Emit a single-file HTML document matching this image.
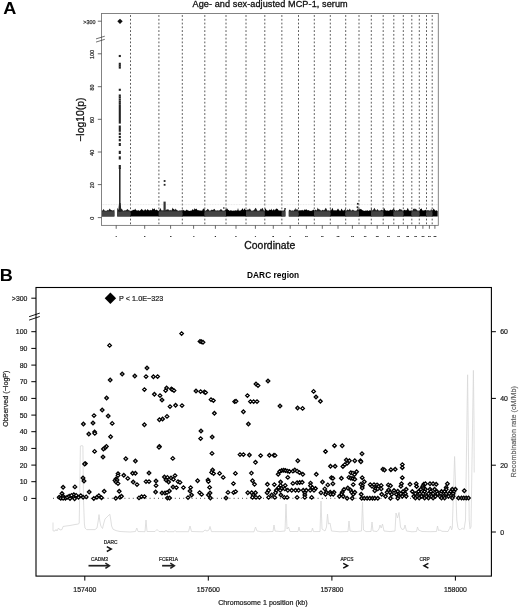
<!DOCTYPE html><html><head><meta charset="utf-8"><title>Figure</title>
<style>html,body{margin:0;padding:0;background:#fff}svg{display:block}text{font-family:"Liberation Sans",sans-serif}.k{stroke:#111;stroke-width:.3px}.j{stroke:#222;stroke-width:.22px}.t{stroke:#333;stroke-width:.25px}.g{stroke:#686868;stroke-width:.2px}</style></head><body>
<svg width="520" height="608" viewBox="0 0 520 608">
<rect width="520" height="608" fill="#fff"/>
<text transform="translate(3.2,14.1) scale(1.06,1)" font-size="17.1" font-weight="bold" fill="#000">A</text>
<text class="k" x="192.5" y="7.2" font-size="9.15" textLength="155.2" fill="#111">Age- and sex-adjusted MCP-1, serum</text>
<line x1="130.5" y1="13.5" x2="130.5" y2="225.4" stroke="#222" stroke-width="0.75" stroke-dasharray="1.8 1.97" stroke-dashoffset="2.18"/>
<line x1="158.9" y1="13.5" x2="158.9" y2="225.4" stroke="#222" stroke-width="0.75" stroke-dasharray="1.8 1.97" stroke-dashoffset="2.18"/>
<line x1="182.3" y1="13.5" x2="182.3" y2="225.4" stroke="#222" stroke-width="0.75" stroke-dasharray="1.8 1.97" stroke-dashoffset="2.18"/>
<line x1="204.8" y1="13.5" x2="204.8" y2="225.4" stroke="#222" stroke-width="0.75" stroke-dasharray="1.8 1.97" stroke-dashoffset="2.18"/>
<line x1="226" y1="13.5" x2="226" y2="225.4" stroke="#222" stroke-width="0.75" stroke-dasharray="1.8 1.97" stroke-dashoffset="2.18"/>
<line x1="246" y1="13.5" x2="246" y2="225.4" stroke="#222" stroke-width="0.75" stroke-dasharray="1.8 1.97" stroke-dashoffset="2.18"/>
<line x1="264.8" y1="13.5" x2="264.8" y2="225.4" stroke="#222" stroke-width="0.75" stroke-dasharray="1.8 1.97" stroke-dashoffset="2.18"/>
<line x1="281.85" y1="13.5" x2="281.85" y2="225.4" stroke="#222" stroke-width="0.75" stroke-dasharray="1.8 1.97" stroke-dashoffset="2.18"/>
<line x1="298.5" y1="13.5" x2="298.5" y2="225.4" stroke="#222" stroke-width="0.75" stroke-dasharray="1.8 1.97" stroke-dashoffset="2.18"/>
<line x1="314.3" y1="13.5" x2="314.3" y2="225.4" stroke="#222" stroke-width="0.75" stroke-dasharray="1.8 1.97" stroke-dashoffset="2.18"/>
<line x1="330.3" y1="13.5" x2="330.3" y2="225.4" stroke="#222" stroke-width="0.75" stroke-dasharray="1.8 1.97" stroke-dashoffset="2.18"/>
<line x1="345.7" y1="13.5" x2="345.7" y2="225.4" stroke="#222" stroke-width="0.75" stroke-dasharray="1.8 1.97" stroke-dashoffset="2.18"/>
<line x1="359" y1="13.5" x2="359" y2="225.4" stroke="#222" stroke-width="0.75" stroke-dasharray="1.8 1.97" stroke-dashoffset="2.18"/>
<line x1="371.3" y1="13.5" x2="371.3" y2="225.4" stroke="#222" stroke-width="0.75" stroke-dasharray="1.8 1.97" stroke-dashoffset="2.18"/>
<line x1="383.2" y1="13.5" x2="383.2" y2="225.4" stroke="#222" stroke-width="0.75" stroke-dasharray="1.8 1.97" stroke-dashoffset="2.18"/>
<line x1="393.8" y1="13.5" x2="393.8" y2="225.4" stroke="#222" stroke-width="0.75" stroke-dasharray="1.8 1.97" stroke-dashoffset="2.18"/>
<line x1="403.3" y1="13.5" x2="403.3" y2="225.4" stroke="#222" stroke-width="0.75" stroke-dasharray="1.8 1.97" stroke-dashoffset="2.18"/>
<line x1="411.8" y1="13.5" x2="411.8" y2="225.4" stroke="#222" stroke-width="0.75" stroke-dasharray="1.8 1.97" stroke-dashoffset="2.18"/>
<line x1="419.3" y1="13.5" x2="419.3" y2="225.4" stroke="#222" stroke-width="0.75" stroke-dasharray="1.8 1.97" stroke-dashoffset="2.18"/>
<line x1="426.5" y1="13.5" x2="426.5" y2="225.4" stroke="#222" stroke-width="0.75" stroke-dasharray="1.8 1.97" stroke-dashoffset="2.18"/>
<line x1="432.2" y1="13.5" x2="432.2" y2="225.4" stroke="#222" stroke-width="0.75" stroke-dasharray="1.8 1.97" stroke-dashoffset="2.18"/>
<line x1="101.5" y1="204.6" x2="438.3" y2="204.6" stroke="#d4d4d4" stroke-width="0.6" stroke-dasharray="0.8 0.8"/>
<polygon fill="#1c1c1c" points="102.0,216.4 102.0,210.7 102.5,210.5 103.0,209.7 103.5,208.9 104.1,209.7 104.6,210.5 105.1,210.9 105.6,210.5 106.1,210.9 106.7,210.6 107.2,210.5 107.7,209.8 108.2,210.5 108.7,209.9 109.2,209.3 109.8,208.6 110.3,209.3 110.8,209.9 111.3,209.9 111.8,210.3 112.3,210.2 112.9,210.7 113.4,210.3 113.9,209.9 114.4,209.5 114.4,216.4"/>
<rect x="102.0" y="211.3" width="12.4" height="5.1" fill="#444"/>
<polygon fill="#1c1c1c" points="117.2,216.4 117.2,207.8 117.7,208.5 118.2,209.4 118.7,210.0 119.2,209.4 119.8,208.8 120.3,209.4 120.8,210.0 121.3,209.1 121.8,208.5 122.3,209.5 122.8,210.4 123.3,210.8 123.9,210.7 124.4,210.2 124.9,210.6 125.4,210.2 125.9,210.6 126.4,210.0 126.9,209.5 127.4,208.9 127.9,209.5 128.5,210.0 129.0,210.6 129.5,210.3 130.0,210.9 130.5,210.8 130.5,216.4"/>
<rect x="117.2" y="211.3" width="13.3" height="5.1" fill="#444"/>
<polygon fill="#000" points="130.5,216.4 130.5,210.9 131.0,210.4 131.5,210.8 132.0,210.7 132.5,210.2 133.0,209.8 133.5,210.1 134.1,209.8 134.6,210.1 135.1,208.6 135.6,209.4 136.1,210.0 136.6,210.6 137.1,210.6 137.6,210.6 138.1,210.3 138.6,210.2 139.1,210.8 139.6,210.8 140.1,210.6 140.6,210.0 141.2,209.4 141.7,208.8 142.2,209.4 142.7,210.0 143.2,210.6 143.7,210.6 144.2,210.5 144.7,209.8 145.2,209.1 145.7,209.8 146.2,210.5 146.7,210.3 147.2,209.8 147.7,209.0 148.2,209.8 148.8,210.3 149.3,210.3 149.8,210.6 150.3,210.2 150.8,209.7 151.3,210.2 151.8,210.3 152.3,209.2 152.8,208.1 153.3,209.2 153.8,209.3 154.3,208.2 154.8,209.0 155.3,210.3 155.9,210.0 156.4,209.6 156.9,210.0 157.4,210.3 157.9,210.5 158.4,210.8 158.9,210.7 158.9,216.4"/>
<polygon fill="#1c1c1c" points="158.9,216.4 158.9,210.5 159.4,209.9 159.9,209.1 160.4,207.9 160.9,209.1 161.4,210.3 162.0,210.4 162.5,210.2 163.0,210.6 163.5,210.2 164.0,210.2 164.5,210.2 165.0,210.3 165.5,209.9 166.0,210.3 166.5,209.7 167.0,209.0 167.5,209.7 168.1,209.1 168.6,209.8 169.1,210.5 169.6,210.2 170.1,209.8 170.6,210.2 171.1,210.4 171.6,210.2 172.1,208.9 172.6,207.6 173.1,208.9 173.7,208.7 174.2,209.3 174.7,209.9 175.2,209.4 175.7,208.4 176.2,209.4 176.7,210.1 177.2,210.2 177.7,210.4 178.2,210.8 178.7,210.8 179.2,210.8 179.8,210.3 180.3,210.3 180.8,210.8 181.3,210.3 181.8,210.2 182.3,210.4 182.3,216.4"/>
<rect x="158.9" y="211.3" width="23.4" height="5.1" fill="#444"/>
<polygon fill="#000" points="182.3,216.4 182.3,209.9 182.8,209.4 183.3,209.9 183.8,210.3 184.3,210.7 184.8,210.5 185.3,210.8 185.8,210.6 186.3,210.1 186.8,209.6 187.3,210.1 187.8,210.4 188.3,210.3 188.8,210.9 189.3,210.8 189.8,210.9 190.3,210.8 190.8,210.6 191.3,210.7 191.8,210.3 192.3,209.8 192.8,209.0 193.3,209.8 193.8,210.3 194.3,209.2 194.8,208.0 195.3,209.2 195.8,209.2 196.3,208.5 196.8,209.2 197.3,209.9 197.8,210.3 198.3,210.3 198.8,210.3 199.3,210.3 199.8,210.8 200.3,210.6 200.8,210.6 201.3,210.6 201.8,210.7 202.3,210.4 202.8,209.3 203.3,208.2 203.8,209.3 204.3,209.6 204.8,208.7 204.8,216.4"/>
<polygon fill="#1c1c1c" points="204.8,216.4 204.8,210.5 205.3,210.9 205.8,210.2 206.3,210.3 206.8,209.9 207.3,209.3 207.8,208.7 208.3,209.3 208.8,209.9 209.3,210.6 209.8,210.8 210.4,210.6 210.9,210.3 211.4,210.0 211.9,209.4 212.4,210.0 212.9,209.9 213.4,209.4 213.9,209.2 214.4,208.8 214.9,209.6 215.4,210.4 215.9,210.6 216.4,210.8 216.9,210.2 217.4,210.5 217.9,210.3 218.4,210.8 218.9,210.3 219.4,210.6 219.9,210.1 220.4,209.6 221.0,209.0 221.5,209.6 222.0,210.1 222.5,210.6 223.0,210.8 223.5,210.5 224.0,210.7 224.5,210.6 225.0,210.1 225.5,209.6 226.0,209.1 226.0,216.4"/>
<rect x="204.8" y="211.3" width="21.2" height="5.1" fill="#444"/>
<polygon fill="#000" points="226.0,216.4 226.0,209.7 226.5,209.0 227.0,208.2 227.5,209.0 228.0,209.7 228.5,209.9 229.0,210.3 229.5,210.7 230.0,210.8 230.5,210.3 231.0,210.3 231.5,210.4 232.0,210.7 232.5,210.7 233.0,210.7 233.5,210.6 234.0,210.8 234.5,210.6 235.0,210.7 235.5,210.2 236.0,210.2 236.5,210.5 237.0,210.7 237.5,210.0 238.0,208.1 238.5,210.0 239.0,210.9 239.5,210.6 240.0,210.6 240.5,210.5 241.0,210.2 241.5,209.8 242.0,209.2 242.5,208.1 243.0,209.2 243.5,210.3 244.0,209.3 244.5,208.3 245.0,209.3 245.5,210.0 246.0,209.4 246.0,216.4"/>
<polygon fill="#1c1c1c" points="246.0,216.4 246.0,210.4 246.5,209.5 247.0,210.3 247.5,209.7 248.0,208.9 248.5,209.7 249.0,209.5 249.6,208.5 250.1,208.8 250.6,209.7 251.1,210.5 251.6,210.7 252.1,210.4 252.6,210.8 253.1,210.4 253.6,210.2 254.1,210.0 254.6,209.3 255.1,208.6 255.7,207.7 256.2,208.6 256.7,209.5 257.2,210.4 257.7,210.8 258.2,210.8 258.7,210.7 259.2,210.4 259.7,210.4 260.2,209.4 260.7,208.4 261.2,209.4 261.8,208.6 262.3,207.7 262.8,208.6 263.3,209.5 263.8,210.4 264.3,210.5 264.8,210.6 264.8,216.4"/>
<rect x="246.0" y="211.3" width="18.8" height="5.1" fill="#444"/>
<polygon fill="#000" points="264.8,216.4 264.8,209.0 265.3,208.2 265.8,209.0 266.3,209.8 266.8,210.2 267.3,210.4 267.8,210.6 268.3,210.4 268.8,210.6 269.3,209.9 269.8,209.2 270.3,209.9 270.8,210.1 271.3,208.5 271.8,210.1 272.3,210.2 272.8,210.5 273.3,209.8 273.8,209.1 274.3,209.8 274.8,210.5 275.3,209.8 275.8,209.0 276.3,208.3 276.8,209.0 277.3,208.7 277.8,209.2 278.3,209.9 278.8,210.6 279.3,210.4 279.8,210.5 280.3,210.8 280.8,210.2 281.3,210.6 281.9,210.7 281.9,216.4"/>
<polygon fill="#1c1c1c" points="281.9,216.4 281.9,210.6 282.4,210.4 282.9,210.8 283.4,210.4 283.9,210.5 284.4,209.6 284.9,208.8 285.4,207.9 285.4,216.4"/>
<rect x="281.9" y="211.3" width="3.5" height="5.1" fill="#444"/>
<polygon fill="#1c1c1c" points="288.8,216.4 288.8,210.6 289.3,210.1 289.8,209.6 290.3,210.1 290.8,210.5 291.4,210.7 291.9,210.6 292.4,210.3 292.9,210.8 293.4,210.7 293.9,210.2 294.4,209.8 294.9,209.3 295.4,207.8 295.9,209.9 296.5,209.6 297.0,208.8 297.5,209.6 298.0,210.5 298.5,210.4 298.5,216.4"/>
<rect x="288.8" y="211.3" width="9.7" height="5.1" fill="#444"/>
<polygon fill="#000" points="298.5,216.4 298.5,209.9 299.0,210.3 299.5,210.4 300.0,210.3 300.5,210.2 301.0,210.6 301.6,210.3 302.1,209.8 302.6,210.3 303.1,210.5 303.6,210.6 304.1,210.0 304.6,209.3 305.1,210.0 305.6,209.8 306.1,209.1 306.7,209.8 307.2,210.3 307.7,210.3 308.2,209.9 308.7,210.3 309.2,210.7 309.7,210.4 310.2,210.9 310.7,210.8 311.2,210.5 311.8,210.9 312.3,210.4 312.8,210.1 313.3,209.6 313.8,210.1 314.3,210.6 314.3,216.4"/>
<polygon fill="#1c1c1c" points="314.3,216.4 314.3,210.3 314.8,209.9 315.3,209.5 315.8,209.9 316.3,210.3 316.8,210.2 317.3,208.9 317.8,207.6 318.3,208.9 318.8,209.3 319.3,209.8 319.8,209.3 320.3,210.0 320.8,210.4 321.3,210.5 321.8,210.4 322.3,210.1 322.8,209.8 323.3,210.1 323.8,210.4 324.3,210.0 324.8,209.5 325.3,208.6 325.8,207.7 326.3,208.6 326.8,209.5 327.3,210.4 327.8,210.6 328.3,210.4 328.8,210.2 329.3,210.8 329.8,210.6 330.3,210.8 330.3,216.4"/>
<rect x="314.3" y="211.3" width="16.0" height="5.1" fill="#444"/>
<polygon fill="#000" points="330.3,216.4 330.3,208.2 330.8,210.0 331.3,210.2 331.8,209.1 332.4,207.8 332.9,209.1 333.4,210.3 333.9,210.6 334.4,210.6 334.9,209.9 335.4,210.6 335.9,210.3 336.5,210.6 337.0,209.9 337.5,209.2 338.0,208.5 338.5,209.2 339.0,209.9 339.5,210.4 340.1,210.9 340.6,210.4 341.1,209.5 341.6,208.6 342.1,209.5 342.6,210.4 343.1,210.3 343.6,210.7 344.2,210.2 344.7,209.7 345.2,209.3 345.7,208.3 345.7,216.4"/>
<polygon fill="#1c1c1c" points="345.7,216.4 345.7,210.9 346.2,210.2 346.7,210.6 347.2,209.9 347.7,209.3 348.3,209.9 348.8,210.3 349.3,209.4 349.8,208.4 350.3,209.4 350.8,210.4 351.3,210.6 351.8,210.6 352.4,210.1 352.9,209.6 353.4,210.1 353.9,210.5 354.4,210.8 354.9,210.6 355.4,210.8 355.9,210.8 356.4,210.5 357.0,210.3 357.5,209.0 358.0,208.1 358.5,209.2 359.0,210.3 359.0,216.4"/>
<rect x="345.7" y="211.3" width="13.3" height="5.1" fill="#444"/>
<polygon fill="#000" points="359.0,216.4 359.0,209.7 359.5,208.8 360.0,209.6 360.5,208.7 361.1,209.6 361.6,209.2 362.1,209.9 362.6,210.3 363.1,210.4 363.6,210.8 364.1,210.6 364.6,210.9 365.1,210.9 365.7,210.3 366.2,210.7 366.7,210.6 367.2,210.6 367.7,210.3 368.2,210.7 368.7,210.9 369.2,210.5 369.8,210.3 370.3,210.8 370.8,210.0 371.3,208.3 371.3,216.4"/>
<polygon fill="#1c1c1c" points="371.3,216.4 371.3,208.1 371.8,209.2 372.3,210.3 372.9,210.5 373.4,209.6 373.9,208.7 374.4,207.8 374.9,208.7 375.4,209.6 376.0,210.5 376.5,210.3 377.0,209.7 377.5,208.9 378.0,209.7 378.5,210.4 379.1,210.6 379.6,210.7 380.1,210.2 380.6,210.4 381.1,210.0 381.6,209.7 382.2,210.0 382.7,210.3 383.2,210.6 383.2,216.4"/>
<rect x="371.3" y="211.3" width="11.9" height="5.1" fill="#444"/>
<polygon fill="#000" points="383.2,216.4 383.2,210.3 383.7,209.1 384.2,207.9 384.7,209.1 385.2,210.3 385.7,210.3 386.2,210.8 386.7,210.5 387.2,210.6 387.7,210.5 388.2,210.8 388.8,210.7 389.3,210.5 389.8,210.3 390.3,209.9 390.8,209.5 391.3,209.9 391.8,210.2 392.3,209.9 392.8,209.3 393.3,208.3 393.8,209.3 393.8,216.4"/>
<polygon fill="#1c1c1c" points="393.8,216.4 393.8,208.8 394.3,209.4 394.8,210.0 395.3,210.6 395.8,210.8 396.3,210.2 396.8,210.3 397.3,210.8 397.8,210.3 398.3,210.3 398.8,209.9 399.3,209.3 399.8,208.7 400.3,209.3 400.8,209.6 401.3,210.0 401.8,209.2 402.3,210.3 402.8,210.7 403.3,210.7 403.3,216.4"/>
<rect x="393.8" y="211.3" width="9.5" height="5.1" fill="#444"/>
<polygon fill="#000" points="403.3,216.4 403.3,210.3 403.8,210.3 404.3,210.0 404.8,209.7 405.3,209.9 405.8,210.4 406.3,210.3 406.8,209.9 407.3,209.0 407.8,207.7 408.3,209.0 408.8,210.3 409.3,210.7 409.8,210.4 410.3,210.8 410.8,210.4 411.3,210.3 411.8,210.4 411.8,216.4"/>
<polygon fill="#1c1c1c" points="411.8,216.4 411.8,210.5 412.3,210.7 412.8,210.1 413.3,208.4 413.8,209.3 414.3,208.3 414.8,209.3 415.3,209.3 415.8,208.6 416.3,209.3 416.8,209.9 417.3,210.6 417.8,210.6 418.3,210.8 418.8,210.6 419.3,210.5 419.3,216.4"/>
<rect x="411.8" y="211.3" width="7.5" height="5.1" fill="#444"/>
<polygon fill="#000" points="419.3,216.4 419.3,210.5 419.8,210.2 420.3,208.8 420.8,209.3 421.4,208.2 421.9,209.3 422.4,210.4 422.9,210.2 423.4,210.5 423.9,210.6 424.4,210.3 425.0,210.3 425.5,209.8 426.0,210.3 426.5,210.6 426.5,216.4"/>
<polygon fill="#1c1c1c" points="426.5,216.4 426.5,209.8 427.0,210.2 427.5,210.3 428.1,210.3 428.6,210.3 429.1,210.4 429.6,210.4 430.1,210.7 430.6,210.2 431.2,208.7 431.7,210.2 432.2,210.6 432.2,216.4"/>
<rect x="426.5" y="211.3" width="5.7" height="5.1" fill="#444"/>
<polygon fill="#000" points="432.2,216.4 432.2,210.3 432.7,209.9 433.2,209.2 433.7,208.5 434.2,209.2 434.7,209.9 435.2,210.6 435.7,210.8 436.2,210.6 436.7,210.3 437.2,210.8 437.7,210.9 437.7,216.4"/>
<rect x="119.05" y="168" width="1.5" height="44" fill="#222"/>
<polygon points="119.05,203 120.55,203 121.39999999999999,211.5 118.2,211.5" fill="#222"/>
<rect x="118.75" y="54.95" width="2.1" height="2.1" fill="#222"/>
<rect x="118.75" y="62.75" width="2.1" height="2.1" fill="#222"/>
<rect x="118.75" y="64.65" width="2.1" height="2.1" fill="#222"/>
<rect x="118.75" y="66.55" width="2.1" height="2.1" fill="#222"/>
<rect x="118.75" y="88.75" width="2.1" height="2.1" fill="#222"/>
<rect x="118.75" y="94.45" width="2.1" height="2.1" fill="#222"/>
<rect x="118.75" y="96.35" width="2.1" height="2.1" fill="#222"/>
<rect x="118.75" y="98.55" width="2.1" height="2.1" fill="#222"/>
<rect x="118.75" y="100.75" width="2.1" height="2.1" fill="#222"/>
<rect x="118.75" y="102.75" width="2.1" height="2.1" fill="#222"/>
<rect x="118.75" y="105" width="2.1" height="18.6" fill="#222"/>
<rect x="118.75" y="125.5" width="2.1" height="6.3" fill="#222"/>
<rect x="118.75" y="132.65" width="2.1" height="2.3" fill="#222"/>
<rect x="118.75" y="135.85" width="2.1" height="2.3" fill="#222"/>
<rect x="118.75" y="139.05" width="2.1" height="2.3" fill="#222"/>
<rect x="118.75" y="143.00" width="2.1" height="3" fill="#222"/>
<rect x="118.75" y="150.80" width="2.1" height="3.2" fill="#222"/>
<rect x="118.75" y="156.30" width="2.1" height="3.2" fill="#222"/>
<rect x="118.75" y="165.00" width="2.1" height="4" fill="#222"/>
<polygon points="117.3,21.3 120.0,18.7 122.7,21.3 120.0,23.9" fill="#111"/>
<rect x="163.5" y="201.6" width="2.2" height="10" fill="#333"/>
<rect x="163.70" y="180.10" width="1.8" height="1.8" fill="#222"/>
<rect x="163.70" y="183.90" width="1.8" height="1.8" fill="#222"/>
<rect x="356.95" y="202.95" width="1.7" height="1.7" fill="#222"/>
<rect x="356.65" y="206.35" width="1.7" height="1.7" fill="#222"/>
<rect x="223.10" y="207.30" width="1.4" height="1.4" fill="#222"/>
<rect x="284.30" y="208.10" width="1.4" height="1.4" fill="#222"/>
<rect x="101.5" y="13.5" width="336.8" height="211.9" fill="none" stroke="#777" stroke-width="0.9"/>
<line x1="97.8" y1="217.6" x2="101.5" y2="217.6" stroke="#444" stroke-width="0.8"/>
<text class="t" transform="translate(94.4,218.29999999999998) rotate(-90)" font-size="5.4" text-anchor="middle" fill="#333">0</text>
<line x1="97.8" y1="184.6" x2="101.5" y2="184.6" stroke="#444" stroke-width="0.8"/>
<text class="t" transform="translate(94.4,185.29999999999998) rotate(-90)" font-size="5.4" text-anchor="middle" fill="#333">20</text>
<line x1="97.8" y1="152" x2="101.5" y2="152" stroke="#444" stroke-width="0.8"/>
<text class="t" transform="translate(94.4,152.7) rotate(-90)" font-size="5.4" text-anchor="middle" fill="#333">40</text>
<line x1="97.8" y1="119.3" x2="101.5" y2="119.3" stroke="#444" stroke-width="0.8"/>
<text class="t" transform="translate(94.4,120.0) rotate(-90)" font-size="5.4" text-anchor="middle" fill="#333">60</text>
<line x1="97.8" y1="86.7" x2="101.5" y2="86.7" stroke="#444" stroke-width="0.8"/>
<text class="t" transform="translate(94.4,87.4) rotate(-90)" font-size="5.4" text-anchor="middle" fill="#333">80</text>
<line x1="97.8" y1="53.8" x2="101.5" y2="53.8" stroke="#444" stroke-width="0.8"/>
<text class="t" transform="translate(94.4,54.5) rotate(-90)" font-size="5.4" text-anchor="middle" fill="#333">100</text>
<line x1="97.8" y1="21.2" x2="101.5" y2="21.2" stroke="#444" stroke-width="0.8"/>
<text class="t" x="95.4" y="23.5" font-size="5.4" text-anchor="end" fill="#333">&gt;300</text>
<line x1="96" y1="38.9" x2="104.8" y2="36.2" stroke="#333" stroke-width="0.7"/>
<line x1="96" y1="42.1" x2="104.8" y2="39.3" stroke="#333" stroke-width="0.7"/>
<text class="k" transform="translate(83.7,141.7) rotate(-90)" font-size="10.4" textLength="44.2" fill="#111">−log10(p)</text>
<line x1="116.2" y1="225.4" x2="116.2" y2="228.8" stroke="#444" stroke-width="0.8"/>
<text x="116.2" y="237.35" font-size="2.5" text-anchor="middle" fill="#111" stroke="#111" stroke-width="0.15">1</text>
<line x1="144.7" y1="225.4" x2="144.7" y2="228.8" stroke="#444" stroke-width="0.8"/>
<text x="144.7" y="237.35" font-size="2.5" text-anchor="middle" fill="#111" stroke="#111" stroke-width="0.15">2</text>
<line x1="170.6" y1="225.4" x2="170.6" y2="228.8" stroke="#444" stroke-width="0.8"/>
<text x="170.6" y="237.35" font-size="2.5" text-anchor="middle" fill="#111" stroke="#111" stroke-width="0.15">3</text>
<line x1="193.6" y1="225.4" x2="193.6" y2="228.8" stroke="#444" stroke-width="0.8"/>
<text x="193.6" y="237.35" font-size="2.5" text-anchor="middle" fill="#111" stroke="#111" stroke-width="0.15">4</text>
<line x1="215.4" y1="225.4" x2="215.4" y2="228.8" stroke="#444" stroke-width="0.8"/>
<text x="215.4" y="237.35" font-size="2.5" text-anchor="middle" fill="#111" stroke="#111" stroke-width="0.15">5</text>
<line x1="236.0" y1="225.4" x2="236.0" y2="228.8" stroke="#444" stroke-width="0.8"/>
<text x="236.0" y="237.35" font-size="2.5" text-anchor="middle" fill="#111" stroke="#111" stroke-width="0.15">6</text>
<line x1="255.4" y1="225.4" x2="255.4" y2="228.8" stroke="#444" stroke-width="0.8"/>
<text x="255.4" y="237.35" font-size="2.5" text-anchor="middle" fill="#111" stroke="#111" stroke-width="0.15">7</text>
<line x1="273.3" y1="225.4" x2="273.3" y2="228.8" stroke="#444" stroke-width="0.8"/>
<text x="273.3" y="237.35" font-size="2.5" text-anchor="middle" fill="#111" stroke="#111" stroke-width="0.15">8</text>
<line x1="290.2" y1="225.4" x2="290.2" y2="228.8" stroke="#444" stroke-width="0.8"/>
<text x="290.2" y="237.35" font-size="2.5" text-anchor="middle" fill="#111" stroke="#111" stroke-width="0.15">9</text>
<line x1="306.4" y1="225.4" x2="306.4" y2="228.8" stroke="#444" stroke-width="0.8"/>
<text x="306.4" y="237.35" font-size="2.5" text-anchor="middle" fill="#111" stroke="#111" stroke-width="0.15">10</text>
<line x1="322.3" y1="225.4" x2="322.3" y2="228.8" stroke="#444" stroke-width="0.8"/>
<text x="322.3" y="237.35" font-size="2.5" text-anchor="middle" fill="#111" stroke="#111" stroke-width="0.15">11</text>
<line x1="338.0" y1="225.4" x2="338.0" y2="228.8" stroke="#444" stroke-width="0.8"/>
<text x="338.0" y="237.35" font-size="2.5" text-anchor="middle" fill="#111" stroke="#111" stroke-width="0.15">12</text>
<line x1="352.4" y1="225.4" x2="352.4" y2="228.8" stroke="#444" stroke-width="0.8"/>
<text x="352.4" y="237.35" font-size="2.5" text-anchor="middle" fill="#111" stroke="#111" stroke-width="0.15">13</text>
<line x1="365.1" y1="225.4" x2="365.1" y2="228.8" stroke="#444" stroke-width="0.8"/>
<text x="365.1" y="237.35" font-size="2.5" text-anchor="middle" fill="#111" stroke="#111" stroke-width="0.15">14</text>
<line x1="377.2" y1="225.4" x2="377.2" y2="228.8" stroke="#444" stroke-width="0.8"/>
<text x="377.2" y="237.35" font-size="2.5" text-anchor="middle" fill="#111" stroke="#111" stroke-width="0.15">15</text>
<line x1="388.5" y1="225.4" x2="388.5" y2="228.8" stroke="#444" stroke-width="0.8"/>
<text x="388.5" y="237.35" font-size="2.5" text-anchor="middle" fill="#111" stroke="#111" stroke-width="0.15">16</text>
<line x1="398.6" y1="225.4" x2="398.6" y2="228.8" stroke="#444" stroke-width="0.8"/>
<text x="398.6" y="237.35" font-size="2.5" text-anchor="middle" fill="#111" stroke="#111" stroke-width="0.15">17</text>
<line x1="407.6" y1="225.4" x2="407.6" y2="228.8" stroke="#444" stroke-width="0.8"/>
<text x="407.6" y="237.35" font-size="2.5" text-anchor="middle" fill="#111" stroke="#111" stroke-width="0.15">18</text>
<line x1="415.6" y1="225.4" x2="415.6" y2="228.8" stroke="#444" stroke-width="0.8"/>
<text x="415.6" y="237.35" font-size="2.5" text-anchor="middle" fill="#111" stroke="#111" stroke-width="0.15">19</text>
<line x1="422.9" y1="225.4" x2="422.9" y2="228.8" stroke="#444" stroke-width="0.8"/>
<text x="422.9" y="237.35" font-size="2.5" text-anchor="middle" fill="#111" stroke="#111" stroke-width="0.15">20</text>
<line x1="429.4" y1="225.4" x2="429.4" y2="228.8" stroke="#444" stroke-width="0.8"/>
<text x="429.4" y="237.35" font-size="2.5" text-anchor="middle" fill="#111" stroke="#111" stroke-width="0.15">21</text>
<line x1="434.9" y1="225.4" x2="434.9" y2="228.8" stroke="#444" stroke-width="0.8"/>
<text x="434.9" y="237.35" font-size="2.5" text-anchor="middle" fill="#111" stroke="#111" stroke-width="0.15">22</text>
<text class="k" x="244.3" y="249" font-size="10.4" textLength="50.9" fill="#111">Coordinate</text>
<text transform="translate(-0.2,281.4) scale(1.06,1)" font-size="17.1" font-weight="bold" fill="#000">B</text>
<text x="247" y="277.8" font-size="8.3" font-weight="bold" textLength="52.2" fill="#000">DARC region</text>
<polyline fill="none" stroke="#d9d9d9" stroke-width="0.85" stroke-linejoin="round" points="53,522.5 53,530.8 55,531 56,529.5 57,531 58.5,528 60,530 62,529.5 63,526.5 66,526 70,525.5 75,524.5 78.5,524 79.2,523 79.6,500 80.4,446 82,445.6 82.9,446 83.5,500 84.4,524 85,528 86.5,529.6 95,529.6 97,528 98.2,521 99,514.6 99.8,521 100.8,526 102.5,528.5 103.6,524 105,519 107,517 109.8,514.2 110.8,520 111.6,526 113,529.2 116,530.6 120,531.5 130,532 135.5,531.5 136.8,528 138,531.5 145,531.7 146,520 147,531.5 155,531.5 157,529.5 159,531.5 165,531.7 166,530 167,531.7 174,531.7 175,530.5 176,531.7 188.5,531.7 190,526 191.5,531.5 203,531.8 205,530 207,531 209,530 210,526.5 211.5,531.6 254,531.8 255.5,527 257,531 262,531.8 273,531.5 274,525 275,531 280,531.5 285,531 286,504 287,529 288.5,527 290,531.5 298,531.5 299,527 300,531.5 311.5,531.6 312.5,528 313.5,531.6 320,531.5 321,501 322,529 325,531 326.5,527 327.5,514 328.5,524 330,523 331.5,531 340,531.8 348,531.5 349,521 350,531 355,531.7 361.5,531 362.5,502 363.5,530 366,531.6 371,531.5 372,522 373,531 377,531.5 379,529 380,525 381.2,528 382.5,524 384,531 390,531.6 395,531 396,513 397.5,518 399,512.5 400.5,527 402,529.5 404,529 405,525 406.5,531 412,531.8 416.5,531.5 417.5,527 418.5,530 422,531.5 430,531.7 436.5,531.5 437.5,526 438.5,530.5 440,530 442,531.3 448,531.5 449.5,528.5 450.5,526 451.5,529.5 451.5,530 452.3,528 454.6,456.5 456.8,520 457.9,527.5 459,529.6 460.5,529.5 462.5,528 464,529.5 465.5,520 467.6,374.8 469.2,520 470,528.7 471,527 473.4,370.4 474,420 474.2,472.5"/>
<line x1="53" y1="498.3" x2="470" y2="498.3" stroke="#333" stroke-width="0.9" stroke-dasharray="1 3.2"/>
<polygon points="107.8,345.4 109.6,343.6 111.4,345.4 109.6,347.2" fill="#fff" stroke="#000" stroke-width="1.3"/>
<polygon points="120.4,374.0 122.2,372.2 124.0,374.0 122.2,375.8" fill="#fff" stroke="#000" stroke-width="1.3"/>
<polygon points="133.0,376.0 134.8,374.2 136.6,376.0 134.8,377.8" fill="#fff" stroke="#000" stroke-width="1.3"/>
<polygon points="108.4,380.0 110.2,378.2 112.0,380.0 110.2,381.8" fill="#fff" stroke="#000" stroke-width="1.3"/>
<polygon points="104.8,398.0 106.6,396.2 108.4,398.0 106.6,399.8" fill="#fff" stroke="#000" stroke-width="1.3"/>
<polygon points="100.4,410.0 102.2,408.2 104.0,410.0 102.2,411.8" fill="#fff" stroke="#000" stroke-width="1.3"/>
<polygon points="92.2,415.6 94.0,413.8 95.8,415.6 94.0,417.4" fill="#fff" stroke="#000" stroke-width="1.3"/>
<polygon points="106.4,416.0 108.2,414.2 110.0,416.0 108.2,417.8" fill="#fff" stroke="#000" stroke-width="1.3"/>
<polygon points="91.2,423.0 93.0,421.2 94.8,423.0 93.0,424.8" fill="#fff" stroke="#000" stroke-width="1.3"/>
<polygon points="81.6,424.0 83.4,422.2 85.2,424.0 83.4,425.8" fill="#fff" stroke="#000" stroke-width="1.3"/>
<polygon points="110.4,423.4 112.2,421.6 114.0,423.4 112.2,425.2" fill="#fff" stroke="#000" stroke-width="1.3"/>
<polygon points="87.0,434.0 88.8,432.2 90.6,434.0 88.8,435.8" fill="#fff" stroke="#000" stroke-width="1.3"/>
<polygon points="92.8,432.0 94.6,430.2 96.4,432.0 94.6,433.8" fill="#fff" stroke="#000" stroke-width="1.3"/>
<polygon points="93.0,433.4 94.8,431.6 96.6,433.4 94.8,435.2" fill="#fff" stroke="#000" stroke-width="1.3"/>
<polygon points="108.8,436.8 110.6,435.0 112.4,436.8 110.6,438.6" fill="#fff" stroke="#000" stroke-width="1.3"/>
<polygon points="104.6,446.4 106.4,444.6 108.2,446.4 106.4,448.2" fill="#fff" stroke="#000" stroke-width="1.3"/>
<polygon points="103.2,448.0 105.0,446.2 106.8,448.0 105.0,449.8" fill="#fff" stroke="#000" stroke-width="1.3"/>
<polygon points="101.6,449.0 103.4,447.2 105.2,449.0 103.4,450.8" fill="#fff" stroke="#000" stroke-width="1.3"/>
<polygon points="92.8,451.4 94.6,449.6 96.4,451.4 94.6,453.2" fill="#fff" stroke="#000" stroke-width="1.3"/>
<polygon points="101.2,457.0 103.0,455.2 104.8,457.0 103.0,458.8" fill="#fff" stroke="#000" stroke-width="1.3"/>
<polygon points="124.0,458.8 125.8,457.0 127.6,458.8 125.8,460.6" fill="#fff" stroke="#000" stroke-width="1.3"/>
<polygon points="133.6,461.0 135.4,459.2 137.2,461.0 135.4,462.8" fill="#fff" stroke="#000" stroke-width="1.3"/>
<polygon points="83.6,463.6 85.4,461.8 87.2,463.6 85.4,465.4" fill="#fff" stroke="#000" stroke-width="1.3"/>
<polygon points="82.8,464.0 84.6,462.2 86.4,464.0 84.6,465.8" fill="#fff" stroke="#000" stroke-width="1.3"/>
<polygon points="116.2,473.6 118.0,471.8 119.8,473.6 118.0,475.4" fill="#fff" stroke="#000" stroke-width="1.3"/>
<polygon points="116.2,475.6 118.0,473.8 119.8,475.6 118.0,477.4" fill="#fff" stroke="#000" stroke-width="1.3"/>
<polygon points="130.8,473.2 132.6,471.4 134.4,473.2 132.6,475.0" fill="#fff" stroke="#000" stroke-width="1.3"/>
<polygon points="133.6,473.2 135.4,471.4 137.2,473.2 135.4,475.0" fill="#fff" stroke="#000" stroke-width="1.3"/>
<polygon points="122.0,475.2 123.8,473.4 125.6,475.2 123.8,477.0" fill="#fff" stroke="#000" stroke-width="1.3"/>
<polygon points="126.0,478.4 127.8,476.6 129.6,478.4 127.8,480.2" fill="#fff" stroke="#000" stroke-width="1.3"/>
<polygon points="81.2,478.0 83.0,476.2 84.8,478.0 83.0,479.8" fill="#fff" stroke="#000" stroke-width="1.3"/>
<polygon points="82.2,481.0 84.0,479.2 85.8,481.0 84.0,482.8" fill="#fff" stroke="#000" stroke-width="1.3"/>
<polygon points="114.2,479.0 116.0,477.2 117.8,479.0 116.0,480.8" fill="#fff" stroke="#000" stroke-width="1.3"/>
<polygon points="113.2,480.4 115.0,478.6 116.8,480.4 115.0,482.2" fill="#fff" stroke="#000" stroke-width="1.3"/>
<polygon points="115.2,480.0 117.0,478.2 118.8,480.0 117.0,481.8" fill="#fff" stroke="#000" stroke-width="1.3"/>
<polygon points="114.2,482.0 116.0,480.2 117.8,482.0 116.0,483.8" fill="#fff" stroke="#000" stroke-width="1.3"/>
<polygon points="116.2,483.6 118.0,481.8 119.8,483.6 118.0,485.4" fill="#fff" stroke="#000" stroke-width="1.3"/>
<polygon points="131.4,482.0 133.2,480.2 135.0,482.0 133.2,483.8" fill="#fff" stroke="#000" stroke-width="1.3"/>
<polygon points="135.2,484.6 137.0,482.8 138.8,484.6 137.0,486.4" fill="#fff" stroke="#000" stroke-width="1.3"/>
<polygon points="137.2,497.9 139.0,496.1 140.8,497.9 139.0,499.7" fill="#fff" stroke="#000" stroke-width="1.3"/>
<polygon points="179.8,333.6 181.6,331.8 183.4,333.6 181.6,335.4" fill="#fff" stroke="#000" stroke-width="1.3"/>
<polygon points="198.2,341.4 200.0,339.6 201.8,341.4 200.0,343.2" fill="#fff" stroke="#000" stroke-width="1.3"/>
<polygon points="199.6,341.8 201.4,340.0 203.2,341.8 201.4,343.6" fill="#fff" stroke="#000" stroke-width="1.3"/>
<polygon points="201.2,342.2 203.0,340.4 204.8,342.2 203.0,344.0" fill="#fff" stroke="#000" stroke-width="1.3"/>
<polygon points="145.2,368.0 147.0,366.2 148.8,368.0 147.0,369.8" fill="#fff" stroke="#000" stroke-width="1.3"/>
<polygon points="144.2,376.6 146.0,374.8 147.8,376.6 146.0,378.4" fill="#fff" stroke="#000" stroke-width="1.3"/>
<polygon points="151.6,376.8 153.4,375.0 155.2,376.8 153.4,378.6" fill="#fff" stroke="#000" stroke-width="1.3"/>
<polygon points="155.8,376.6 157.6,374.8 159.4,376.6 157.6,378.4" fill="#fff" stroke="#000" stroke-width="1.3"/>
<polygon points="142.6,389.6 144.4,387.8 146.2,389.6 144.4,391.4" fill="#fff" stroke="#000" stroke-width="1.3"/>
<polygon points="152.6,394.2 154.4,392.4 156.2,394.2 154.4,396.0" fill="#fff" stroke="#000" stroke-width="1.3"/>
<polygon points="158.2,395.6 160.0,393.8 161.8,395.6 160.0,397.4" fill="#fff" stroke="#000" stroke-width="1.3"/>
<polygon points="160.2,400.0 162.0,398.2 163.8,400.0 162.0,401.8" fill="#fff" stroke="#000" stroke-width="1.3"/>
<polygon points="164.8,388.0 166.6,386.2 168.4,388.0 166.6,389.8" fill="#fff" stroke="#000" stroke-width="1.3"/>
<polygon points="163.8,390.6 165.6,388.8 167.4,390.6 165.6,392.4" fill="#fff" stroke="#000" stroke-width="1.3"/>
<polygon points="169.6,389.0 171.4,387.2 173.2,389.0 171.4,390.8" fill="#fff" stroke="#000" stroke-width="1.3"/>
<polygon points="170.6,389.6 172.4,387.8 174.2,389.6 172.4,391.4" fill="#fff" stroke="#000" stroke-width="1.3"/>
<polygon points="172.2,390.6 174.0,388.8 175.8,390.6 174.0,392.4" fill="#fff" stroke="#000" stroke-width="1.3"/>
<polygon points="168.2,406.6 170.0,404.8 171.8,406.6 170.0,408.4" fill="#fff" stroke="#000" stroke-width="1.3"/>
<polygon points="173.8,405.2 175.6,403.4 177.4,405.2 175.6,407.0" fill="#fff" stroke="#000" stroke-width="1.3"/>
<polygon points="180.2,405.6 182.0,403.8 183.8,405.6 182.0,407.4" fill="#fff" stroke="#000" stroke-width="1.3"/>
<polygon points="194.2,391.0 196.0,389.2 197.8,391.0 196.0,392.8" fill="#fff" stroke="#000" stroke-width="1.3"/>
<polygon points="198.8,391.6 200.6,389.8 202.4,391.6 200.6,393.4" fill="#fff" stroke="#000" stroke-width="1.3"/>
<polygon points="202.6,392.0 204.4,390.2 206.2,392.0 204.4,393.8" fill="#fff" stroke="#000" stroke-width="1.3"/>
<polygon points="203.8,392.6 205.6,390.8 207.4,392.6 205.6,394.4" fill="#fff" stroke="#000" stroke-width="1.3"/>
<polygon points="209.2,399.6 211.0,397.8 212.8,399.6 211.0,401.4" fill="#fff" stroke="#000" stroke-width="1.3"/>
<polygon points="211.6,400.6 213.4,398.8 215.2,400.6 213.4,402.4" fill="#fff" stroke="#000" stroke-width="1.3"/>
<polygon points="232.8,401.6 234.6,399.8 236.4,401.6 234.6,403.4" fill="#fff" stroke="#000" stroke-width="1.3"/>
<polygon points="234.2,401.2 236.0,399.4 237.8,401.2 236.0,403.0" fill="#fff" stroke="#000" stroke-width="1.3"/>
<polygon points="212.6,413.2 214.4,411.4 216.2,413.2 214.4,415.0" fill="#fff" stroke="#000" stroke-width="1.3"/>
<polygon points="241.6,411.8 243.4,410.0 245.2,411.8 243.4,413.6" fill="#fff" stroke="#000" stroke-width="1.3"/>
<polygon points="165.2,416.4 167.0,414.6 168.8,416.4 167.0,418.2" fill="#fff" stroke="#000" stroke-width="1.3"/>
<polygon points="160.8,419.0 162.6,417.2 164.4,419.0 162.6,420.8" fill="#fff" stroke="#000" stroke-width="1.3"/>
<polygon points="157.6,419.8 159.4,418.0 161.2,419.8 159.4,421.6" fill="#fff" stroke="#000" stroke-width="1.3"/>
<polygon points="142.6,424.8 144.4,423.0 146.2,424.8 144.4,426.6" fill="#fff" stroke="#000" stroke-width="1.3"/>
<polygon points="199.2,431.0 201.0,429.2 202.8,431.0 201.0,432.8" fill="#fff" stroke="#000" stroke-width="1.3"/>
<polygon points="198.8,438.6 200.6,436.8 202.4,438.6 200.6,440.4" fill="#fff" stroke="#000" stroke-width="1.3"/>
<polygon points="210.4,437.0 212.2,435.2 214.0,437.0 212.2,438.8" fill="#fff" stroke="#000" stroke-width="1.3"/>
<polygon points="157.6,446.4 159.4,444.6 161.2,446.4 159.4,448.2" fill="#fff" stroke="#000" stroke-width="1.3"/>
<polygon points="157.2,447.2 159.0,445.4 160.8,447.2 159.0,449.0" fill="#fff" stroke="#000" stroke-width="1.3"/>
<polygon points="210.2,453.4 212.0,451.6 213.8,453.4 212.0,455.2" fill="#fff" stroke="#000" stroke-width="1.3"/>
<polygon points="238.2,454.6 240.0,452.8 241.8,454.6 240.0,456.4" fill="#fff" stroke="#000" stroke-width="1.3"/>
<polygon points="241.6,454.6 243.4,452.8 245.2,454.6 243.4,456.4" fill="#fff" stroke="#000" stroke-width="1.3"/>
<polygon points="171.0,458.4 172.8,456.6 174.6,458.4 172.8,460.2" fill="#fff" stroke="#000" stroke-width="1.3"/>
<polygon points="147.2,473.0 149.0,471.2 150.8,473.0 149.0,474.8" fill="#fff" stroke="#000" stroke-width="1.3"/>
<polygon points="210.8,470.0 212.6,468.2 214.4,470.0 212.6,471.8" fill="#fff" stroke="#000" stroke-width="1.3"/>
<polygon points="209.8,472.4 211.6,470.6 213.4,472.4 211.6,474.2" fill="#fff" stroke="#000" stroke-width="1.3"/>
<polygon points="211.8,473.6 213.6,471.8 215.4,473.6 213.6,475.4" fill="#fff" stroke="#000" stroke-width="1.3"/>
<polygon points="217.8,473.4 219.6,471.6 221.4,473.4 219.6,475.2" fill="#fff" stroke="#000" stroke-width="1.3"/>
<polygon points="221.4,477.4 223.2,475.6 225.0,477.4 223.2,479.2" fill="#fff" stroke="#000" stroke-width="1.3"/>
<polygon points="233.6,473.4 235.4,471.6 237.2,473.4 235.4,475.2" fill="#fff" stroke="#000" stroke-width="1.3"/>
<polygon points="173.2,475.6 175.0,473.8 176.8,475.6 175.0,477.4" fill="#fff" stroke="#000" stroke-width="1.3"/>
<polygon points="162.6,477.0 164.4,475.2 166.2,477.0 164.4,478.8" fill="#fff" stroke="#000" stroke-width="1.3"/>
<polygon points="165.6,477.4 167.4,475.6 169.2,477.4 167.4,479.2" fill="#fff" stroke="#000" stroke-width="1.3"/>
<polygon points="169.2,478.0 171.0,476.2 172.8,478.0 171.0,479.8" fill="#fff" stroke="#000" stroke-width="1.3"/>
<polygon points="171.6,479.4 173.4,477.6 175.2,479.4 173.4,481.2" fill="#fff" stroke="#000" stroke-width="1.3"/>
<polygon points="164.2,480.0 166.0,478.2 167.8,480.0 166.0,481.8" fill="#fff" stroke="#000" stroke-width="1.3"/>
<polygon points="166.8,482.0 168.6,480.2 170.4,482.0 168.6,483.8" fill="#fff" stroke="#000" stroke-width="1.3"/>
<polygon points="144.2,481.6 146.0,479.8 147.8,481.6 146.0,483.4" fill="#fff" stroke="#000" stroke-width="1.3"/>
<polygon points="147.2,481.6 149.0,479.8 150.8,481.6 149.0,483.4" fill="#fff" stroke="#000" stroke-width="1.3"/>
<polygon points="154.2,481.0 156.0,479.2 157.8,481.0 156.0,482.8" fill="#fff" stroke="#000" stroke-width="1.3"/>
<polygon points="154.2,485.6 156.0,483.8 157.8,485.6 156.0,487.4" fill="#fff" stroke="#000" stroke-width="1.3"/>
<polygon points="176.2,481.6 178.0,479.8 179.8,481.6 178.0,483.4" fill="#fff" stroke="#000" stroke-width="1.3"/>
<polygon points="178.2,482.4 180.0,480.6 181.8,482.4 180.0,484.2" fill="#fff" stroke="#000" stroke-width="1.3"/>
<polygon points="195.8,480.8 197.6,479.0 199.4,480.8 197.6,482.6" fill="#fff" stroke="#000" stroke-width="1.3"/>
<polygon points="206.2,480.0 208.0,478.2 209.8,480.0 208.0,481.8" fill="#fff" stroke="#000" stroke-width="1.3"/>
<polygon points="206.6,481.6 208.4,479.8 210.2,481.6 208.4,483.4" fill="#fff" stroke="#000" stroke-width="1.3"/>
<polygon points="231.6,483.6 233.4,481.8 235.2,483.6 233.4,485.4" fill="#fff" stroke="#000" stroke-width="1.3"/>
<polygon points="171.2,487.0 173.0,485.2 174.8,487.0 173.0,488.8" fill="#fff" stroke="#000" stroke-width="1.3"/>
<polygon points="174.6,487.6 176.4,485.8 178.2,487.6 176.4,489.4" fill="#fff" stroke="#000" stroke-width="1.3"/>
<polygon points="181.6,487.6 183.4,485.8 185.2,487.6 183.4,489.4" fill="#fff" stroke="#000" stroke-width="1.3"/>
<polygon points="188.8,487.6 190.6,485.8 192.4,487.6 190.6,489.4" fill="#fff" stroke="#000" stroke-width="1.3"/>
<polygon points="207.8,487.4 209.6,485.6 211.4,487.4 209.6,489.2" fill="#fff" stroke="#000" stroke-width="1.3"/>
<polygon points="188.2,491.0 190.0,489.2 191.8,491.0 190.0,492.8" fill="#fff" stroke="#000" stroke-width="1.3"/>
<polygon points="167.6,491.0 169.4,489.2 171.2,491.0 169.4,492.8" fill="#fff" stroke="#000" stroke-width="1.3"/>
<polygon points="153.8,492.0 155.6,490.2 157.4,492.0 155.6,493.8" fill="#fff" stroke="#000" stroke-width="1.3"/>
<polygon points="160.2,493.0 162.0,491.2 163.8,493.0 162.0,494.8" fill="#fff" stroke="#000" stroke-width="1.3"/>
<polygon points="163.2,493.0 165.0,491.2 166.8,493.0 165.0,494.8" fill="#fff" stroke="#000" stroke-width="1.3"/>
<polygon points="165.2,492.6 167.0,490.8 168.8,492.6 167.0,494.4" fill="#fff" stroke="#000" stroke-width="1.3"/>
<polygon points="197.8,492.6 199.6,490.8 201.4,492.6 199.6,494.4" fill="#fff" stroke="#000" stroke-width="1.3"/>
<polygon points="199.8,494.4 201.6,492.6 203.4,494.4 201.6,496.2" fill="#fff" stroke="#000" stroke-width="1.3"/>
<polygon points="208.2,493.0 210.0,491.2 211.8,493.0 210.0,494.8" fill="#fff" stroke="#000" stroke-width="1.3"/>
<polygon points="206.6,495.0 208.4,493.2 210.2,495.0 208.4,496.8" fill="#fff" stroke="#000" stroke-width="1.3"/>
<polygon points="226.2,492.4 228.0,490.6 229.8,492.4 228.0,494.2" fill="#fff" stroke="#000" stroke-width="1.3"/>
<polygon points="231.8,492.6 233.6,490.8 235.4,492.6 233.6,494.4" fill="#fff" stroke="#000" stroke-width="1.3"/>
<polygon points="233.8,491.6 235.6,489.8 237.4,491.6 235.6,493.4" fill="#fff" stroke="#000" stroke-width="1.3"/>
<polygon points="189.8,495.0 191.6,493.2 193.4,495.0 191.6,496.8" fill="#fff" stroke="#000" stroke-width="1.3"/>
<polygon points="186.2,497.6 188.0,495.8 189.8,497.6 188.0,499.4" fill="#fff" stroke="#000" stroke-width="1.3"/>
<polygon points="139.8,496.6 141.6,494.8 143.4,496.6 141.6,498.4" fill="#fff" stroke="#000" stroke-width="1.3"/>
<polygon points="142.6,496.6 144.4,494.8 146.2,496.6 144.4,498.4" fill="#fff" stroke="#000" stroke-width="1.3"/>
<polygon points="165.6,498.0 167.4,496.2 169.2,498.0 167.4,499.8" fill="#fff" stroke="#000" stroke-width="1.3"/>
<polygon points="167.8,498.0 169.6,496.2 171.4,498.0 169.6,499.8" fill="#fff" stroke="#000" stroke-width="1.3"/>
<polygon points="208.6,498.0 210.4,496.2 212.2,498.0 210.4,499.8" fill="#fff" stroke="#000" stroke-width="1.3"/>
<polygon points="224.2,498.0 226.0,496.2 227.8,498.0 226.0,499.8" fill="#fff" stroke="#000" stroke-width="1.3"/>
<polygon points="266.2,381.0 268.0,379.2 269.8,381.0 268.0,382.8" fill="#fff" stroke="#000" stroke-width="1.3"/>
<polygon points="254.2,384.0 256.0,382.2 257.8,384.0 256.0,385.8" fill="#fff" stroke="#000" stroke-width="1.3"/>
<polygon points="256.2,385.6 258.0,383.8 259.8,385.6 258.0,387.4" fill="#fff" stroke="#000" stroke-width="1.3"/>
<polygon points="245.6,395.6 247.4,393.8 249.2,395.6 247.4,397.4" fill="#fff" stroke="#000" stroke-width="1.3"/>
<polygon points="248.6,401.6 250.4,399.8 252.2,401.6 250.4,403.4" fill="#fff" stroke="#000" stroke-width="1.3"/>
<polygon points="251.8,401.6 253.6,399.8 255.4,401.6 253.6,403.4" fill="#fff" stroke="#000" stroke-width="1.3"/>
<polygon points="255.2,401.6 257.0,399.8 258.8,401.6 257.0,403.4" fill="#fff" stroke="#000" stroke-width="1.3"/>
<polygon points="278.2,406.0 280.0,404.2 281.8,406.0 280.0,407.8" fill="#fff" stroke="#000" stroke-width="1.3"/>
<polygon points="295.8,408.0 297.6,406.2 299.4,408.0 297.6,409.8" fill="#fff" stroke="#000" stroke-width="1.3"/>
<polygon points="300.8,408.4 302.6,406.6 304.4,408.4 302.6,410.2" fill="#fff" stroke="#000" stroke-width="1.3"/>
<polygon points="311.8,391.4 313.6,389.6 315.4,391.4 313.6,393.2" fill="#fff" stroke="#000" stroke-width="1.3"/>
<polygon points="314.2,397.0 316.0,395.2 317.8,397.0 316.0,398.8" fill="#fff" stroke="#000" stroke-width="1.3"/>
<polygon points="318.6,401.2 320.4,399.4 322.2,401.2 320.4,403.0" fill="#fff" stroke="#000" stroke-width="1.3"/>
<polygon points="246.6,424.0 248.4,422.2 250.2,424.0 248.4,425.8" fill="#fff" stroke="#000" stroke-width="1.3"/>
<polygon points="247.6,455.0 249.4,453.2 251.2,455.0 249.4,456.8" fill="#fff" stroke="#000" stroke-width="1.3"/>
<polygon points="258.8,455.6 260.6,453.8 262.4,455.6 260.6,457.4" fill="#fff" stroke="#000" stroke-width="1.3"/>
<polygon points="267.6,455.2 269.4,453.4 271.2,455.2 269.4,457.0" fill="#fff" stroke="#000" stroke-width="1.3"/>
<polygon points="272.2,455.2 274.0,453.4 275.8,455.2 274.0,457.0" fill="#fff" stroke="#000" stroke-width="1.3"/>
<polygon points="273.2,455.4 275.0,453.6 276.8,455.4 275.0,457.2" fill="#fff" stroke="#000" stroke-width="1.3"/>
<polygon points="253.7,462.3 255.5,460.5 257.3,462.3 255.5,464.1" fill="#fff" stroke="#000" stroke-width="1.3"/>
<polygon points="296.0,460.8 297.8,459.0 299.6,460.8 297.8,462.6" fill="#fff" stroke="#000" stroke-width="1.3"/>
<polygon points="249.6,473.1 251.4,471.3 253.2,473.1 251.4,474.9" fill="#fff" stroke="#000" stroke-width="1.3"/>
<polygon points="314.5,474.3 316.3,472.5 318.1,474.3 316.3,476.1" fill="#fff" stroke="#000" stroke-width="1.3"/>
<polygon points="276.4,474.2 278.2,472.4 280.0,474.2 278.2,476.0" fill="#fff" stroke="#000" stroke-width="1.3"/>
<polygon points="277.9,471.5 279.7,469.7 281.5,471.5 279.7,473.3" fill="#fff" stroke="#000" stroke-width="1.3"/>
<polygon points="279.9,470.5 281.7,468.7 283.5,470.5 281.7,472.3" fill="#fff" stroke="#000" stroke-width="1.3"/>
<polygon points="281.9,470.2 283.7,468.4 285.5,470.2 283.7,472.0" fill="#fff" stroke="#000" stroke-width="1.3"/>
<polygon points="283.7,470.5 285.5,468.7 287.3,470.5 285.5,472.3" fill="#fff" stroke="#000" stroke-width="1.3"/>
<polygon points="285.7,471.1 287.5,469.3 289.3,471.1 287.5,472.9" fill="#fff" stroke="#000" stroke-width="1.3"/>
<polygon points="287.6,471.5 289.4,469.7 291.2,471.5 289.4,473.3" fill="#fff" stroke="#000" stroke-width="1.3"/>
<polygon points="291.1,471.1 292.9,469.3 294.7,471.1 292.9,472.9" fill="#fff" stroke="#000" stroke-width="1.3"/>
<polygon points="293.0,470.0 294.8,468.2 296.6,470.0 294.8,471.8" fill="#fff" stroke="#000" stroke-width="1.3"/>
<polygon points="295.3,471.1 297.1,469.3 298.9,471.1 297.1,472.9" fill="#fff" stroke="#000" stroke-width="1.3"/>
<polygon points="297.6,472.6 299.4,470.8 301.2,472.6 299.4,474.4" fill="#fff" stroke="#000" stroke-width="1.3"/>
<polygon points="301.0,474.3 302.8,472.5 304.6,474.3 302.8,476.1" fill="#fff" stroke="#000" stroke-width="1.3"/>
<polygon points="286.0,477.4 287.8,475.6 289.6,477.4 287.8,479.2" fill="#fff" stroke="#000" stroke-width="1.3"/>
<polygon points="250.7,480.8 252.5,479.0 254.3,480.8 252.5,482.6" fill="#fff" stroke="#000" stroke-width="1.3"/>
<polygon points="252.7,484.3 254.5,482.5 256.3,484.3 254.5,486.1" fill="#fff" stroke="#000" stroke-width="1.3"/>
<polygon points="278.8,482.0 280.6,480.2 282.4,482.0 280.6,483.8" fill="#fff" stroke="#000" stroke-width="1.3"/>
<polygon points="265.6,484.3 267.4,482.5 269.2,484.3 267.4,486.1" fill="#fff" stroke="#000" stroke-width="1.3"/>
<polygon points="272.5,484.6 274.3,482.8 276.1,484.6 274.3,486.4" fill="#fff" stroke="#000" stroke-width="1.3"/>
<polygon points="278.8,485.4 280.6,483.6 282.4,485.4 280.6,487.2" fill="#fff" stroke="#000" stroke-width="1.3"/>
<polygon points="283.4,485.4 285.2,483.6 287.0,485.4 285.2,487.2" fill="#fff" stroke="#000" stroke-width="1.3"/>
<polygon points="291.1,483.4 292.9,481.6 294.7,483.4 292.9,485.2" fill="#fff" stroke="#000" stroke-width="1.3"/>
<polygon points="295.3,482.8 297.1,481.0 298.9,482.8 297.1,484.6" fill="#fff" stroke="#000" stroke-width="1.3"/>
<polygon points="297.9,482.5 299.7,480.7 301.5,482.5 299.7,484.3" fill="#fff" stroke="#000" stroke-width="1.3"/>
<polygon points="300.4,482.3 302.2,480.5 304.0,482.3 302.2,484.1" fill="#fff" stroke="#000" stroke-width="1.3"/>
<polygon points="308.7,483.1 310.5,481.3 312.3,483.1 310.5,484.9" fill="#fff" stroke="#000" stroke-width="1.3"/>
<polygon points="320.7,482.0 322.5,480.2 324.3,482.0 322.5,483.8" fill="#fff" stroke="#000" stroke-width="1.3"/>
<polygon points="308.7,485.8 310.5,484.0 312.3,485.8 310.5,487.6" fill="#fff" stroke="#000" stroke-width="1.3"/>
<polygon points="310.7,487.7 312.5,485.9 314.3,487.7 312.5,489.5" fill="#fff" stroke="#000" stroke-width="1.3"/>
<polygon points="313.7,488.5 315.5,486.7 317.3,488.5 315.5,490.3" fill="#fff" stroke="#000" stroke-width="1.3"/>
<polygon points="276.8,487.7 278.6,485.9 280.4,487.7 278.6,489.5" fill="#fff" stroke="#000" stroke-width="1.3"/>
<polygon points="279.9,488.2 281.7,486.4 283.5,488.2 281.7,490.0" fill="#fff" stroke="#000" stroke-width="1.3"/>
<polygon points="283.0,488.9 284.8,487.1 286.6,488.9 284.8,490.7" fill="#fff" stroke="#000" stroke-width="1.3"/>
<polygon points="266.8,490.3 268.6,488.5 270.4,490.3 268.6,492.1" fill="#fff" stroke="#000" stroke-width="1.3"/>
<polygon points="274.5,490.3 276.3,488.5 278.1,490.3 276.3,492.1" fill="#fff" stroke="#000" stroke-width="1.3"/>
<polygon points="278.4,490.3 280.2,488.5 282.0,490.3 280.2,492.1" fill="#fff" stroke="#000" stroke-width="1.3"/>
<polygon points="286.0,490.3 287.8,488.5 289.6,490.3 287.8,492.1" fill="#fff" stroke="#000" stroke-width="1.3"/>
<polygon points="289.9,490.3 291.7,488.5 293.5,490.3 291.7,492.1" fill="#fff" stroke="#000" stroke-width="1.3"/>
<polygon points="293.7,490.3 295.5,488.5 297.3,490.3 295.5,492.1" fill="#fff" stroke="#000" stroke-width="1.3"/>
<polygon points="296.8,490.3 298.6,488.5 300.4,490.3 298.6,492.1" fill="#fff" stroke="#000" stroke-width="1.3"/>
<polygon points="301.4,490.3 303.2,488.5 305.0,490.3 303.2,492.1" fill="#fff" stroke="#000" stroke-width="1.3"/>
<polygon points="304.5,490.3 306.3,488.5 308.1,490.3 306.3,492.1" fill="#fff" stroke="#000" stroke-width="1.3"/>
<polygon points="308.4,490.3 310.2,488.5 312.0,490.3 310.2,492.1" fill="#fff" stroke="#000" stroke-width="1.3"/>
<polygon points="312.2,490.3 314.0,488.5 315.8,490.3 314.0,492.1" fill="#fff" stroke="#000" stroke-width="1.3"/>
<polygon points="246.0,492.8 247.8,491.0 249.6,492.8 247.8,494.6" fill="#fff" stroke="#000" stroke-width="1.3"/>
<polygon points="249.9,492.8 251.7,491.0 253.5,492.8 251.7,494.6" fill="#fff" stroke="#000" stroke-width="1.3"/>
<polygon points="253.7,492.8 255.5,491.0 257.3,492.8 255.5,494.6" fill="#fff" stroke="#000" stroke-width="1.3"/>
<polygon points="265.3,492.8 267.1,491.0 268.9,492.8 267.1,494.6" fill="#fff" stroke="#000" stroke-width="1.3"/>
<polygon points="273.7,492.8 275.5,491.0 277.3,492.8 275.5,494.6" fill="#fff" stroke="#000" stroke-width="1.3"/>
<polygon points="303.0,492.8 304.8,491.0 306.6,492.8 304.8,494.6" fill="#fff" stroke="#000" stroke-width="1.3"/>
<polygon points="319.2,492.8 321.0,491.0 322.8,492.8 321.0,494.6" fill="#fff" stroke="#000" stroke-width="1.3"/>
<polygon points="251.4,495.0 253.2,493.2 255.0,495.0 253.2,496.8" fill="#fff" stroke="#000" stroke-width="1.3"/>
<polygon points="269.9,495.0 271.7,493.2 273.5,495.0 271.7,496.8" fill="#fff" stroke="#000" stroke-width="1.3"/>
<polygon points="279.1,495.0 280.9,493.2 282.7,495.0 280.9,496.8" fill="#fff" stroke="#000" stroke-width="1.3"/>
<polygon points="303.0,495.0 304.8,493.2 306.6,495.0 304.8,496.8" fill="#fff" stroke="#000" stroke-width="1.3"/>
<polygon points="250.7,497.4 252.5,495.6 254.3,497.4 252.5,499.2" fill="#fff" stroke="#000" stroke-width="1.3"/>
<polygon points="254.2,497.4 256.0,495.6 257.8,497.4 256.0,499.2" fill="#fff" stroke="#000" stroke-width="1.3"/>
<polygon points="257.6,497.4 259.4,495.6 261.2,497.4 259.4,499.2" fill="#fff" stroke="#000" stroke-width="1.3"/>
<polygon points="266.8,497.4 268.6,495.6 270.4,497.4 268.6,499.2" fill="#fff" stroke="#000" stroke-width="1.3"/>
<polygon points="273.0,497.4 274.8,495.6 276.6,497.4 274.8,499.2" fill="#fff" stroke="#000" stroke-width="1.3"/>
<polygon points="282.5,497.4 284.3,495.6 286.1,497.4 284.3,499.2" fill="#fff" stroke="#000" stroke-width="1.3"/>
<polygon points="285.3,497.4 287.1,495.6 288.9,497.4 287.1,499.2" fill="#fff" stroke="#000" stroke-width="1.3"/>
<polygon points="295.3,497.4 297.1,495.6 298.9,497.4 297.1,499.2" fill="#fff" stroke="#000" stroke-width="1.3"/>
<polygon points="303.0,497.4 304.8,495.6 306.6,497.4 304.8,499.2" fill="#fff" stroke="#000" stroke-width="1.3"/>
<polygon points="309.9,497.4 311.7,495.6 313.5,497.4 311.7,499.2" fill="#fff" stroke="#000" stroke-width="1.3"/>
<polygon points="332.7,445.7 334.5,443.9 336.3,445.7 334.5,447.5" fill="#fff" stroke="#000" stroke-width="1.3"/>
<polygon points="340.4,445.8 342.2,444.0 344.0,445.8 342.2,447.6" fill="#fff" stroke="#000" stroke-width="1.3"/>
<polygon points="323.7,451.5 325.5,449.7 327.3,451.5 325.5,453.3" fill="#fff" stroke="#000" stroke-width="1.3"/>
<polygon points="360.2,453.8 362.0,452.0 363.8,453.8 362.0,455.6" fill="#fff" stroke="#000" stroke-width="1.3"/>
<polygon points="344.5,460.0 346.3,458.2 348.1,460.0 346.3,461.8" fill="#fff" stroke="#000" stroke-width="1.3"/>
<polygon points="347.6,460.8 349.4,459.0 351.2,460.8 349.4,462.6" fill="#fff" stroke="#000" stroke-width="1.3"/>
<polygon points="353.0,460.8 354.8,459.0 356.6,460.8 354.8,462.6" fill="#fff" stroke="#000" stroke-width="1.3"/>
<polygon points="358.7,460.8 360.5,459.0 362.3,460.8 360.5,462.6" fill="#fff" stroke="#000" stroke-width="1.3"/>
<polygon points="359.1,461.8 360.9,460.0 362.7,461.8 360.9,463.6" fill="#fff" stroke="#000" stroke-width="1.3"/>
<polygon points="345.3,463.4 347.1,461.6 348.9,463.4 347.1,465.2" fill="#fff" stroke="#000" stroke-width="1.3"/>
<polygon points="343.0,464.6 344.8,462.8 346.6,464.6 344.8,466.4" fill="#fff" stroke="#000" stroke-width="1.3"/>
<polygon points="341.1,466.5 342.9,464.7 344.7,466.5 342.9,468.3" fill="#fff" stroke="#000" stroke-width="1.3"/>
<polygon points="328.7,466.2 330.5,464.4 332.3,466.2 330.5,468.0" fill="#fff" stroke="#000" stroke-width="1.3"/>
<polygon points="333.3,466.2 335.1,464.4 336.9,466.2 335.1,468.0" fill="#fff" stroke="#000" stroke-width="1.3"/>
<polygon points="381.1,469.2 382.9,467.4 384.7,469.2 382.9,471.0" fill="#fff" stroke="#000" stroke-width="1.3"/>
<polygon points="382.7,470.0 384.5,468.2 386.3,470.0 384.5,471.8" fill="#fff" stroke="#000" stroke-width="1.3"/>
<polygon points="389.1,469.7 390.9,467.9 392.7,469.7 390.9,471.5" fill="#fff" stroke="#000" stroke-width="1.3"/>
<polygon points="393.4,469.2 395.2,467.4 397.0,469.2 395.2,471.0" fill="#fff" stroke="#000" stroke-width="1.3"/>
<polygon points="354.8,471.8 356.6,470.0 358.4,471.8 356.6,473.6" fill="#fff" stroke="#000" stroke-width="1.3"/>
<polygon points="349.1,472.8 350.9,471.0 352.7,472.8 350.9,474.6" fill="#fff" stroke="#000" stroke-width="1.3"/>
<polygon points="351.1,473.1 352.9,471.3 354.7,473.1 352.9,474.9" fill="#fff" stroke="#000" stroke-width="1.3"/>
<polygon points="352.7,474.6 354.5,472.8 356.3,474.6 354.5,476.4" fill="#fff" stroke="#000" stroke-width="1.3"/>
<polygon points="347.1,477.4 348.9,475.6 350.7,477.4 348.9,479.2" fill="#fff" stroke="#000" stroke-width="1.3"/>
<polygon points="349.1,478.2 350.9,476.4 352.7,478.2 350.9,480.0" fill="#fff" stroke="#000" stroke-width="1.3"/>
<polygon points="351.1,478.5 352.9,476.7 354.7,478.5 352.9,480.3" fill="#fff" stroke="#000" stroke-width="1.3"/>
<polygon points="353.0,479.2 354.8,477.4 356.6,479.2 354.8,481.0" fill="#fff" stroke="#000" stroke-width="1.3"/>
<polygon points="329.6,477.7 331.4,475.9 333.2,477.7 331.4,479.5" fill="#fff" stroke="#000" stroke-width="1.3"/>
<polygon points="331.1,478.2 332.9,476.4 334.7,478.2 332.9,480.0" fill="#fff" stroke="#000" stroke-width="1.3"/>
<polygon points="339.6,478.2 341.4,476.4 343.2,478.2 341.4,480.0" fill="#fff" stroke="#000" stroke-width="1.3"/>
<polygon points="360.4,477.7 362.2,475.9 364.0,477.7 362.2,479.5" fill="#fff" stroke="#000" stroke-width="1.3"/>
<polygon points="362.5,481.8 364.3,480.0 366.1,481.8 364.3,483.6" fill="#fff" stroke="#000" stroke-width="1.3"/>
<polygon points="331.1,483.8 332.9,482.0 334.7,483.8 332.9,485.6" fill="#fff" stroke="#000" stroke-width="1.3"/>
<polygon points="326.0,484.9 327.8,483.1 329.6,484.9 327.8,486.7" fill="#fff" stroke="#000" stroke-width="1.3"/>
<polygon points="351.4,484.6 353.2,482.8 355.0,484.6 353.2,486.4" fill="#fff" stroke="#000" stroke-width="1.3"/>
<polygon points="359.1,484.3 360.9,482.5 362.7,484.3 360.9,486.1" fill="#fff" stroke="#000" stroke-width="1.3"/>
<polygon points="360.7,485.8 362.5,484.0 364.3,485.8 362.5,487.6" fill="#fff" stroke="#000" stroke-width="1.3"/>
<polygon points="368.4,484.6 370.2,482.8 372.0,484.6 370.2,486.4" fill="#fff" stroke="#000" stroke-width="1.3"/>
<polygon points="370.2,486.2 372.0,484.4 373.8,486.2 372.0,488.0" fill="#fff" stroke="#000" stroke-width="1.3"/>
<polygon points="372.2,484.6 374.0,482.8 375.8,484.6 374.0,486.4" fill="#fff" stroke="#000" stroke-width="1.3"/>
<polygon points="375.3,484.9 377.1,483.1 378.9,484.9 377.1,486.7" fill="#fff" stroke="#000" stroke-width="1.3"/>
<polygon points="376.8,486.2 378.6,484.4 380.4,486.2 378.6,488.0" fill="#fff" stroke="#000" stroke-width="1.3"/>
<polygon points="379.4,485.4 381.2,483.6 383.0,485.4 381.2,487.2" fill="#fff" stroke="#000" stroke-width="1.3"/>
<polygon points="386.5,484.9 388.3,483.1 390.1,484.9 388.3,486.7" fill="#fff" stroke="#000" stroke-width="1.3"/>
<polygon points="388.7,485.8 390.5,484.0 392.3,485.8 390.5,487.6" fill="#fff" stroke="#000" stroke-width="1.3"/>
<polygon points="360.4,488.0 362.2,486.2 364.0,488.0 362.2,489.8" fill="#fff" stroke="#000" stroke-width="1.3"/>
<polygon points="373.7,488.5 375.5,486.7 377.3,488.5 375.5,490.3" fill="#fff" stroke="#000" stroke-width="1.3"/>
<polygon points="376.0,488.9 377.8,487.1 379.6,488.9 377.8,490.7" fill="#fff" stroke="#000" stroke-width="1.3"/>
<polygon points="379.4,488.9 381.2,487.1 383.0,488.9 381.2,490.7" fill="#fff" stroke="#000" stroke-width="1.3"/>
<polygon points="346.0,488.0 347.8,486.2 349.6,488.0 347.8,489.8" fill="#fff" stroke="#000" stroke-width="1.3"/>
<polygon points="323.0,488.9 324.8,487.1 326.6,488.9 324.8,490.7" fill="#fff" stroke="#000" stroke-width="1.3"/>
<polygon points="342.2,489.5 344.0,487.7 345.8,489.5 344.0,491.3" fill="#fff" stroke="#000" stroke-width="1.3"/>
<polygon points="348.7,490.0 350.5,488.2 352.3,490.0 350.5,491.8" fill="#fff" stroke="#000" stroke-width="1.3"/>
<polygon points="373.0,490.8 374.8,489.0 376.6,490.8 374.8,492.6" fill="#fff" stroke="#000" stroke-width="1.3"/>
<polygon points="386.8,490.0 388.6,488.2 390.4,490.0 388.6,491.8" fill="#fff" stroke="#000" stroke-width="1.3"/>
<polygon points="392.2,490.5 394.0,488.7 395.8,490.5 394.0,492.3" fill="#fff" stroke="#000" stroke-width="1.3"/>
<polygon points="396.0,491.2 397.8,489.4 399.6,491.2 397.8,493.0" fill="#fff" stroke="#000" stroke-width="1.3"/>
<polygon points="324.5,492.3 326.3,490.5 328.1,492.3 326.3,494.1" fill="#fff" stroke="#000" stroke-width="1.3"/>
<polygon points="328.4,492.3 330.2,490.5 332.0,492.3 330.2,494.1" fill="#fff" stroke="#000" stroke-width="1.3"/>
<polygon points="332.2,492.3 334.0,490.5 335.8,492.3 334.0,494.1" fill="#fff" stroke="#000" stroke-width="1.3"/>
<polygon points="340.4,492.3 342.2,490.5 344.0,492.3 342.2,494.1" fill="#fff" stroke="#000" stroke-width="1.3"/>
<polygon points="349.9,492.3 351.7,490.5 353.5,492.3 351.7,494.1" fill="#fff" stroke="#000" stroke-width="1.3"/>
<polygon points="353.0,492.3 354.8,490.5 356.6,492.3 354.8,494.1" fill="#fff" stroke="#000" stroke-width="1.3"/>
<polygon points="385.3,492.3 387.1,490.5 388.9,492.3 387.1,494.1" fill="#fff" stroke="#000" stroke-width="1.3"/>
<polygon points="388.4,492.3 390.2,490.5 392.0,492.3 390.2,494.1" fill="#fff" stroke="#000" stroke-width="1.3"/>
<polygon points="323.7,494.2 325.5,492.4 327.3,494.2 325.5,496.0" fill="#fff" stroke="#000" stroke-width="1.3"/>
<polygon points="328.7,494.2 330.5,492.4 332.3,494.2 330.5,496.0" fill="#fff" stroke="#000" stroke-width="1.3"/>
<polygon points="331.4,494.2 333.2,492.4 335.0,494.2 333.2,496.0" fill="#fff" stroke="#000" stroke-width="1.3"/>
<polygon points="339.9,494.2 341.7,492.4 343.5,494.2 341.7,496.0" fill="#fff" stroke="#000" stroke-width="1.3"/>
<polygon points="351.4,494.2 353.2,492.4 355.0,494.2 353.2,496.0" fill="#fff" stroke="#000" stroke-width="1.3"/>
<polygon points="359.4,494.2 361.2,492.4 363.0,494.2 361.2,496.0" fill="#fff" stroke="#000" stroke-width="1.3"/>
<polygon points="379.9,494.2 381.7,492.4 383.5,494.2 381.7,496.0" fill="#fff" stroke="#000" stroke-width="1.3"/>
<polygon points="389.9,494.2 391.7,492.4 393.5,494.2 391.7,496.0" fill="#fff" stroke="#000" stroke-width="1.3"/>
<polygon points="394.5,494.2 396.3,492.4 398.1,494.2 396.3,496.0" fill="#fff" stroke="#000" stroke-width="1.3"/>
<polygon points="337.6,496.2 339.4,494.4 341.2,496.2 339.4,498.0" fill="#fff" stroke="#000" stroke-width="1.3"/>
<polygon points="341.4,496.2 343.2,494.4 345.0,496.2 343.2,498.0" fill="#fff" stroke="#000" stroke-width="1.3"/>
<polygon points="383.7,496.2 385.5,494.4 387.3,496.2 385.5,498.0" fill="#fff" stroke="#000" stroke-width="1.3"/>
<polygon points="396.8,496.2 398.6,494.4 400.4,496.2 398.6,498.0" fill="#fff" stroke="#000" stroke-width="1.3"/>
<polygon points="345.3,498.2 347.1,496.4 348.9,498.2 347.1,500.0" fill="#fff" stroke="#000" stroke-width="1.3"/>
<polygon points="350.4,498.2 352.2,496.4 354.0,498.2 352.2,500.0" fill="#fff" stroke="#000" stroke-width="1.3"/>
<polygon points="359.9,498.2 361.7,496.4 363.5,498.2 361.7,500.0" fill="#fff" stroke="#000" stroke-width="1.3"/>
<polygon points="362.5,498.2 364.3,496.4 366.1,498.2 364.3,500.0" fill="#fff" stroke="#000" stroke-width="1.3"/>
<polygon points="365.3,498.2 367.1,496.4 368.9,498.2 367.1,500.0" fill="#fff" stroke="#000" stroke-width="1.3"/>
<polygon points="368.0,498.2 369.8,496.4 371.6,498.2 369.8,500.0" fill="#fff" stroke="#000" stroke-width="1.3"/>
<polygon points="370.7,498.2 372.5,496.4 374.3,498.2 372.5,500.0" fill="#fff" stroke="#000" stroke-width="1.3"/>
<polygon points="373.0,498.2 374.8,496.4 376.6,498.2 374.8,500.0" fill="#fff" stroke="#000" stroke-width="1.3"/>
<polygon points="376.0,498.2 377.8,496.4 379.6,498.2 377.8,500.0" fill="#fff" stroke="#000" stroke-width="1.3"/>
<polygon points="388.7,498.2 390.5,496.4 392.3,498.2 390.5,500.0" fill="#fff" stroke="#000" stroke-width="1.3"/>
<polygon points="396.0,498.2 397.8,496.4 399.6,498.2 397.8,500.0" fill="#fff" stroke="#000" stroke-width="1.3"/>
<polygon points="400.5,464.6 402.3,462.8 404.1,464.6 402.3,466.4" fill="#fff" stroke="#000" stroke-width="1.3"/>
<polygon points="400.5,467.7 402.3,465.9 404.1,467.7 402.3,469.5" fill="#fff" stroke="#000" stroke-width="1.3"/>
<polygon points="400.5,477.7 402.3,475.9 404.1,477.7 402.3,479.5" fill="#fff" stroke="#000" stroke-width="1.3"/>
<polygon points="399.7,483.8 401.5,482.0 403.3,483.8 401.5,485.6" fill="#fff" stroke="#000" stroke-width="1.3"/>
<polygon points="408.2,484.3 410.0,482.5 411.8,484.3 410.0,486.1" fill="#fff" stroke="#000" stroke-width="1.3"/>
<polygon points="414.4,483.8 416.2,482.0 418.0,483.8 416.2,485.6" fill="#fff" stroke="#000" stroke-width="1.3"/>
<polygon points="422.0,484.2 423.8,482.4 425.6,484.2 423.8,486.0" fill="#fff" stroke="#000" stroke-width="1.3"/>
<polygon points="423.6,483.8 425.4,482.0 427.2,483.8 425.4,485.6" fill="#fff" stroke="#000" stroke-width="1.3"/>
<polygon points="428.2,483.8 430.0,482.0 431.8,483.8 430.0,485.6" fill="#fff" stroke="#000" stroke-width="1.3"/>
<polygon points="431.3,483.8 433.1,482.0 434.9,483.8 433.1,485.6" fill="#fff" stroke="#000" stroke-width="1.3"/>
<polygon points="434.4,484.2 436.2,482.4 438.0,484.2 436.2,486.0" fill="#fff" stroke="#000" stroke-width="1.3"/>
<polygon points="445.6,483.8 447.4,482.0 449.2,483.8 447.4,485.6" fill="#fff" stroke="#000" stroke-width="1.3"/>
<polygon points="414.8,486.5 416.6,484.7 418.4,486.5 416.6,488.3" fill="#fff" stroke="#000" stroke-width="1.3"/>
<polygon points="421.0,486.2 422.8,484.4 424.6,486.2 422.8,488.0" fill="#fff" stroke="#000" stroke-width="1.3"/>
<polygon points="421.3,488.2 423.1,486.4 424.9,488.2 423.1,490.0" fill="#fff" stroke="#000" stroke-width="1.3"/>
<polygon points="444.4,487.4 446.2,485.6 448.0,487.4 446.2,489.2" fill="#fff" stroke="#000" stroke-width="1.3"/>
<polygon points="462.5,490.8 464.3,489.0 466.1,490.8 464.3,492.6" fill="#fff" stroke="#000" stroke-width="1.3"/>
<polygon points="399.1,486.2 400.9,484.4 402.7,486.2 400.9,488.0" fill="#fff" stroke="#000" stroke-width="1.3"/>
<polygon points="404.4,489.2 406.2,487.4 408.0,489.2 406.2,491.0" fill="#fff" stroke="#000" stroke-width="1.3"/>
<polygon points="419.0,489.2 420.8,487.4 422.6,489.2 420.8,491.0" fill="#fff" stroke="#000" stroke-width="1.3"/>
<polygon points="423.6,489.2 425.4,487.4 427.2,489.2 425.4,491.0" fill="#fff" stroke="#000" stroke-width="1.3"/>
<polygon points="428.2,489.2 430.0,487.4 431.8,489.2 430.0,491.0" fill="#fff" stroke="#000" stroke-width="1.3"/>
<polygon points="432.8,489.2 434.6,487.4 436.4,489.2 434.6,491.0" fill="#fff" stroke="#000" stroke-width="1.3"/>
<polygon points="444.4,489.2 446.2,487.4 448.0,489.2 446.2,491.0" fill="#fff" stroke="#000" stroke-width="1.3"/>
<polygon points="450.5,489.2 452.3,487.4 454.1,489.2 452.3,491.0" fill="#fff" stroke="#000" stroke-width="1.3"/>
<polygon points="453.6,489.2 455.4,487.4 457.2,489.2 455.4,491.0" fill="#fff" stroke="#000" stroke-width="1.3"/>
<polygon points="401.3,491.5 403.1,489.7 404.9,491.5 403.1,493.3" fill="#fff" stroke="#000" stroke-width="1.3"/>
<polygon points="410.5,491.5 412.3,489.7 414.1,491.5 412.3,493.3" fill="#fff" stroke="#000" stroke-width="1.3"/>
<polygon points="416.7,491.5 418.5,489.7 420.3,491.5 418.5,493.3" fill="#fff" stroke="#000" stroke-width="1.3"/>
<polygon points="422.8,491.5 424.6,489.7 426.4,491.5 424.6,493.3" fill="#fff" stroke="#000" stroke-width="1.3"/>
<polygon points="429.0,491.5 430.8,489.7 432.6,491.5 430.8,493.3" fill="#fff" stroke="#000" stroke-width="1.3"/>
<polygon points="435.1,491.5 436.9,489.7 438.7,491.5 436.9,493.3" fill="#fff" stroke="#000" stroke-width="1.3"/>
<polygon points="439.7,491.5 441.5,489.7 443.3,491.5 441.5,493.3" fill="#fff" stroke="#000" stroke-width="1.3"/>
<polygon points="442.8,491.5 444.6,489.7 446.4,491.5 444.6,493.3" fill="#fff" stroke="#000" stroke-width="1.3"/>
<polygon points="449.0,491.5 450.8,489.7 452.6,491.5 450.8,493.3" fill="#fff" stroke="#000" stroke-width="1.3"/>
<polygon points="452.0,491.5 453.8,489.7 455.6,491.5 453.8,493.3" fill="#fff" stroke="#000" stroke-width="1.3"/>
<polygon points="399.0,493.8 400.8,492.0 402.6,493.8 400.8,495.6" fill="#fff" stroke="#000" stroke-width="1.3"/>
<polygon points="403.6,493.8 405.4,492.0 407.2,493.8 405.4,495.6" fill="#fff" stroke="#000" stroke-width="1.3"/>
<polygon points="413.6,493.8 415.4,492.0 417.2,493.8 415.4,495.6" fill="#fff" stroke="#000" stroke-width="1.3"/>
<polygon points="418.2,493.8 420.0,492.0 421.8,493.8 420.0,495.6" fill="#fff" stroke="#000" stroke-width="1.3"/>
<polygon points="421.3,493.8 423.1,492.0 424.9,493.8 423.1,495.6" fill="#fff" stroke="#000" stroke-width="1.3"/>
<polygon points="426.7,493.8 428.5,492.0 430.3,493.8 428.5,495.6" fill="#fff" stroke="#000" stroke-width="1.3"/>
<polygon points="431.3,493.8 433.1,492.0 434.9,493.8 433.1,495.6" fill="#fff" stroke="#000" stroke-width="1.3"/>
<polygon points="435.9,493.8 437.7,492.0 439.5,493.8 437.7,495.6" fill="#fff" stroke="#000" stroke-width="1.3"/>
<polygon points="439.0,493.8 440.8,492.0 442.6,493.8 440.8,495.6" fill="#fff" stroke="#000" stroke-width="1.3"/>
<polygon points="444.4,493.8 446.2,492.0 448.0,493.8 446.2,495.6" fill="#fff" stroke="#000" stroke-width="1.3"/>
<polygon points="447.4,493.8 449.2,492.0 451.0,493.8 449.2,495.6" fill="#fff" stroke="#000" stroke-width="1.3"/>
<polygon points="451.3,493.8 453.1,492.0 454.9,493.8 453.1,495.6" fill="#fff" stroke="#000" stroke-width="1.3"/>
<polygon points="400.5,496.2 402.3,494.4 404.1,496.2 402.3,498.0" fill="#fff" stroke="#000" stroke-width="1.3"/>
<polygon points="404.4,496.2 406.2,494.4 408.0,496.2 406.2,498.0" fill="#fff" stroke="#000" stroke-width="1.3"/>
<polygon points="412.0,496.2 413.8,494.4 415.6,496.2 413.8,498.0" fill="#fff" stroke="#000" stroke-width="1.3"/>
<polygon points="415.1,496.2 416.9,494.4 418.7,496.2 416.9,498.0" fill="#fff" stroke="#000" stroke-width="1.3"/>
<polygon points="419.7,496.2 421.5,494.4 423.3,496.2 421.5,498.0" fill="#fff" stroke="#000" stroke-width="1.3"/>
<polygon points="424.4,496.2 426.2,494.4 428.0,496.2 426.2,498.0" fill="#fff" stroke="#000" stroke-width="1.3"/>
<polygon points="429.7,496.2 431.5,494.4 433.3,496.2 431.5,498.0" fill="#fff" stroke="#000" stroke-width="1.3"/>
<polygon points="433.6,496.2 435.4,494.4 437.2,496.2 435.4,498.0" fill="#fff" stroke="#000" stroke-width="1.3"/>
<polygon points="438.2,496.2 440.0,494.4 441.8,496.2 440.0,498.0" fill="#fff" stroke="#000" stroke-width="1.3"/>
<polygon points="442.0,496.2 443.8,494.4 445.6,496.2 443.8,498.0" fill="#fff" stroke="#000" stroke-width="1.3"/>
<polygon points="446.7,496.2 448.5,494.4 450.3,496.2 448.5,498.0" fill="#fff" stroke="#000" stroke-width="1.3"/>
<polygon points="451.3,496.2 453.1,494.4 454.9,496.2 453.1,498.0" fill="#fff" stroke="#000" stroke-width="1.3"/>
<polygon points="413.6,498.0 415.4,496.2 417.2,498.0 415.4,499.8" fill="#fff" stroke="#000" stroke-width="1.3"/>
<polygon points="417.4,498.0 419.2,496.2 421.0,498.0 419.2,499.8" fill="#fff" stroke="#000" stroke-width="1.3"/>
<polygon points="422.8,498.0 424.6,496.2 426.4,498.0 424.6,499.8" fill="#fff" stroke="#000" stroke-width="1.3"/>
<polygon points="426.7,498.0 428.5,496.2 430.3,498.0 428.5,499.8" fill="#fff" stroke="#000" stroke-width="1.3"/>
<polygon points="431.3,498.0 433.1,496.2 434.9,498.0 433.1,499.8" fill="#fff" stroke="#000" stroke-width="1.3"/>
<polygon points="439.7,498.0 441.5,496.2 443.3,498.0 441.5,499.8" fill="#fff" stroke="#000" stroke-width="1.3"/>
<polygon points="442.8,498.0 444.6,496.2 446.4,498.0 444.6,499.8" fill="#fff" stroke="#000" stroke-width="1.3"/>
<polygon points="450.5,498.0 452.3,496.2 454.1,498.0 452.3,499.8" fill="#fff" stroke="#000" stroke-width="1.3"/>
<polygon points="456.7,498.0 458.5,496.2 460.3,498.0 458.5,499.8" fill="#fff" stroke="#000" stroke-width="1.3"/>
<polygon points="459.7,498.0 461.5,496.2 463.3,498.0 461.5,499.8" fill="#fff" stroke="#000" stroke-width="1.3"/>
<polygon points="462.0,498.0 463.8,496.2 465.6,498.0 463.8,499.8" fill="#fff" stroke="#000" stroke-width="1.3"/>
<polygon points="464.4,498.0 466.2,496.2 468.0,498.0 466.2,499.8" fill="#fff" stroke="#000" stroke-width="1.3"/>
<polygon points="466.7,498.0 468.5,496.2 470.3,498.0 468.5,499.8" fill="#fff" stroke="#000" stroke-width="1.3"/>
<polygon points="61.3,487.2 63.1,485.4 64.9,487.2 63.1,489.0" fill="#fff" stroke="#000" stroke-width="1.3"/>
<polygon points="73.1,486.9 74.9,485.1 76.7,486.9 74.9,488.7" fill="#fff" stroke="#000" stroke-width="1.3"/>
<polygon points="87.4,492.0 89.2,490.2 91.0,492.0 89.2,493.8" fill="#fff" stroke="#000" stroke-width="1.3"/>
<polygon points="102.4,491.2 104.2,489.4 106.0,491.2 104.2,493.0" fill="#fff" stroke="#000" stroke-width="1.3"/>
<polygon points="117.4,491.2 119.2,489.4 121.0,491.2 119.2,493.0" fill="#fff" stroke="#000" stroke-width="1.3"/>
<polygon points="60.2,493.5 62.0,491.7 63.8,493.5 62.0,495.3" fill="#fff" stroke="#000" stroke-width="1.3"/>
<polygon points="72.0,494.6 73.8,492.8 75.6,494.6 73.8,496.4" fill="#fff" stroke="#000" stroke-width="1.3"/>
<polygon points="57.4,497.2 59.2,495.4 61.0,497.2 59.2,499.0" fill="#fff" stroke="#000" stroke-width="1.3"/>
<polygon points="59.0,498.2 60.8,496.4 62.6,498.2 60.8,500.0" fill="#fff" stroke="#000" stroke-width="1.3"/>
<polygon points="61.3,496.2 63.1,494.4 64.9,496.2 63.1,498.0" fill="#fff" stroke="#000" stroke-width="1.3"/>
<polygon points="63.6,498.2 65.4,496.4 67.2,498.2 65.4,500.0" fill="#fff" stroke="#000" stroke-width="1.3"/>
<polygon points="65.4,497.2 67.2,495.4 69.0,497.2 67.2,499.0" fill="#fff" stroke="#000" stroke-width="1.3"/>
<polygon points="67.4,496.2 69.2,494.4 71.0,496.2 69.2,498.0" fill="#fff" stroke="#000" stroke-width="1.3"/>
<polygon points="69.7,495.4 71.5,493.6 73.3,495.4 71.5,497.2" fill="#fff" stroke="#000" stroke-width="1.3"/>
<polygon points="72.0,497.2 73.8,495.4 75.6,497.2 73.8,499.0" fill="#fff" stroke="#000" stroke-width="1.3"/>
<polygon points="74.4,495.4 76.2,493.6 78.0,495.4 76.2,497.2" fill="#fff" stroke="#000" stroke-width="1.3"/>
<polygon points="76.7,497.2 78.5,495.4 80.3,497.2 78.5,499.0" fill="#fff" stroke="#000" stroke-width="1.3"/>
<polygon points="79.0,495.7 80.8,493.9 82.6,495.7 80.8,497.5" fill="#fff" stroke="#000" stroke-width="1.3"/>
<polygon points="81.3,497.2 83.1,495.4 84.9,497.2 83.1,499.0" fill="#fff" stroke="#000" stroke-width="1.3"/>
<polygon points="84.4,496.9 86.2,495.1 88.0,496.9 86.2,498.7" fill="#fff" stroke="#000" stroke-width="1.3"/>
<polygon points="92.0,498.5 93.8,496.7 95.6,498.5 93.8,500.3" fill="#fff" stroke="#000" stroke-width="1.3"/>
<polygon points="95.1,497.2 96.9,495.4 98.7,497.2 96.9,499.0" fill="#fff" stroke="#000" stroke-width="1.3"/>
<polygon points="97.1,495.7 98.9,493.9 100.7,495.7 98.9,497.5" fill="#fff" stroke="#000" stroke-width="1.3"/>
<polygon points="99.7,497.7 101.5,495.9 103.3,497.7 101.5,499.5" fill="#fff" stroke="#000" stroke-width="1.3"/>
<polygon points="114.0,498.2 115.8,496.4 117.6,498.2 115.8,500.0" fill="#fff" stroke="#000" stroke-width="1.3"/>
<polygon points="118.2,497.2 120.0,495.4 121.8,497.2 120.0,499.0" fill="#fff" stroke="#000" stroke-width="1.3"/>
<polygon points="119.7,496.2 121.5,494.4 123.3,496.2 121.5,498.0" fill="#fff" stroke="#000" stroke-width="1.3"/>
<polygon points="61.3,498.2 63.1,496.4 64.9,498.2 63.1,500.0" fill="#fff" stroke="#000" stroke-width="1.3"/>
<polygon points="68.2,498.5 70.0,496.7 71.8,498.5 70.0,500.3" fill="#fff" stroke="#000" stroke-width="1.3"/>
<polygon points="72.8,498.8 74.6,497.0 76.4,498.8 74.6,500.6" fill="#fff" stroke="#000" stroke-width="1.3"/>
<polygon points="104.7,298.3 110.4,292.6 116.1,298.3 110.4,304" fill="#000"/>
<text class="j" x="119.1" y="300.5" font-size="7.2" textLength="44.2" fill="#222">P &lt; 1.0E−323</text>
<rect x="36.0" y="287.5" width="455.4" height="288.6" fill="none" stroke="#000" stroke-width="1.1"/>
<line x1="31.3" y1="498.4" x2="36.0" y2="498.4" stroke="#000" stroke-width="1"/>
<text class="j" x="27.3" y="500.9" font-size="6.9" text-anchor="end" fill="#222">0</text>
<line x1="31.3" y1="481.7" x2="36.0" y2="481.7" stroke="#000" stroke-width="1"/>
<text class="j" x="27.3" y="484.2" font-size="6.9" text-anchor="end" fill="#222">10</text>
<line x1="31.3" y1="465.1" x2="36.0" y2="465.1" stroke="#000" stroke-width="1"/>
<text class="j" x="27.3" y="467.6" font-size="6.9" text-anchor="end" fill="#222">20</text>
<line x1="31.3" y1="448.4" x2="36.0" y2="448.4" stroke="#000" stroke-width="1"/>
<text class="j" x="27.3" y="450.9" font-size="6.9" text-anchor="end" fill="#222">30</text>
<line x1="31.3" y1="431.7" x2="36.0" y2="431.7" stroke="#000" stroke-width="1"/>
<text class="j" x="27.3" y="434.2" font-size="6.9" text-anchor="end" fill="#222">40</text>
<line x1="31.3" y1="415.1" x2="36.0" y2="415.1" stroke="#000" stroke-width="1"/>
<text class="j" x="27.3" y="417.6" font-size="6.9" text-anchor="end" fill="#222">50</text>
<line x1="31.3" y1="398.4" x2="36.0" y2="398.4" stroke="#000" stroke-width="1"/>
<text class="j" x="27.3" y="400.9" font-size="6.9" text-anchor="end" fill="#222">60</text>
<line x1="31.3" y1="381.7" x2="36.0" y2="381.7" stroke="#000" stroke-width="1"/>
<text class="j" x="27.3" y="384.2" font-size="6.9" text-anchor="end" fill="#222">70</text>
<line x1="31.3" y1="365.1" x2="36.0" y2="365.1" stroke="#000" stroke-width="1"/>
<text class="j" x="27.3" y="367.6" font-size="6.9" text-anchor="end" fill="#222">80</text>
<line x1="31.3" y1="348.4" x2="36.0" y2="348.4" stroke="#000" stroke-width="1"/>
<text class="j" x="27.3" y="350.9" font-size="6.9" text-anchor="end" fill="#222">90</text>
<line x1="31.3" y1="331.7" x2="36.0" y2="331.7" stroke="#000" stroke-width="1"/>
<text class="j" x="27.3" y="334.2" font-size="6.9" text-anchor="end" fill="#222">100</text>
<line x1="31.3" y1="298.2" x2="36.0" y2="298.2" stroke="#000" stroke-width="1"/>
<text class="j" x="27.4" y="300.7" font-size="6.9" text-anchor="end" fill="#222">&gt;300</text>
<line x1="29.1" y1="316.7" x2="39.8" y2="313.1" stroke="#000" stroke-width="0.9"/>
<line x1="29.1" y1="320.1" x2="39.8" y2="316.5" stroke="#000" stroke-width="0.9"/>
<text class="j" transform="translate(7.8,426.7) rotate(-90)" font-size="7.1" textLength="56.2" fill="#222">Observed (−logP)</text>
<line x1="491.4" y1="532" x2="495.9" y2="532" stroke="#000" stroke-width="1"/>
<text class="j" x="500.2" y="534.5" font-size="6.9" fill="#222">0</text>
<line x1="491.4" y1="465.2" x2="495.9" y2="465.2" stroke="#000" stroke-width="1"/>
<text class="j" x="500.2" y="467.7" font-size="6.9" fill="#222">20</text>
<line x1="491.4" y1="398.4" x2="495.9" y2="398.4" stroke="#000" stroke-width="1"/>
<text class="j" x="500.2" y="400.9" font-size="6.9" fill="#222">40</text>
<line x1="491.4" y1="331.7" x2="495.9" y2="331.7" stroke="#000" stroke-width="1"/>
<text class="j" x="500.2" y="334.2" font-size="6.9" fill="#222">60</text>
<text class="g" transform="translate(516.3,477.4) rotate(-90)" font-size="7.2" textLength="91.4" fill="#686868">Recombination rate (cM/Mb)</text>
<line x1="84.8" y1="576.1" x2="84.8" y2="580.6" stroke="#000" stroke-width="1"/>
<text class="j" x="84.8" y="591.9" font-size="6.9" text-anchor="middle" fill="#222">157400</text>
<line x1="208.3" y1="576.1" x2="208.3" y2="580.6" stroke="#000" stroke-width="1"/>
<text class="j" x="208.3" y="591.9" font-size="6.9" text-anchor="middle" fill="#222">157600</text>
<line x1="331.9" y1="576.1" x2="331.9" y2="580.6" stroke="#000" stroke-width="1"/>
<text class="j" x="331.9" y="591.9" font-size="6.9" text-anchor="middle" fill="#222">157800</text>
<line x1="455.4" y1="576.1" x2="455.4" y2="580.6" stroke="#000" stroke-width="1"/>
<text class="j" x="455.4" y="591.9" font-size="6.9" text-anchor="middle" fill="#222">158000</text>
<text class="j" x="218.2" y="605.1" font-size="7.1" textLength="89.5" fill="#222">Chromosome 1 position (kb)</text>
<text x="110.7" y="544.0" font-size="4.85" text-anchor="middle" fill="#222" stroke="#222" stroke-width="0.2">DARC</text>
<polyline points="106.8,546.7 111.2,549.1 106.8,551.5" fill="none" stroke="#111" stroke-width="1.5"/>
<text x="99.6" y="560.7" font-size="4.85" text-anchor="middle" fill="#222" stroke="#222" stroke-width="0.2">CADM3</text>
<line x1="88.5" y1="565.7" x2="108.5" y2="565.7" stroke="#222" stroke-width="1.7"/>
<polyline points="105.4,563.1 109.4,565.7 105.4,568.3000000000001" fill="none" stroke="#222" stroke-width="1.6"/>
<text x="168.5" y="560.7" font-size="4.85" text-anchor="middle" fill="#222" stroke="#222" stroke-width="0.2">FCER1A</text>
<line x1="162.1" y1="565.7" x2="173.4" y2="565.7" stroke="#222" stroke-width="1.7"/>
<polyline points="170.3,563.1 174.3,565.7 170.3,568.3000000000001" fill="none" stroke="#222" stroke-width="1.6"/>
<text x="347" y="560.7" font-size="4.85" text-anchor="middle" fill="#222" stroke="#222" stroke-width="0.2">APCS</text>
<polyline points="343.2,563.3000000000001 347.59999999999997,565.7 343.2,568.1" fill="none" stroke="#111" stroke-width="1.5"/>
<text x="424.6" y="560.7" font-size="4.85" text-anchor="middle" fill="#222" stroke="#222" stroke-width="0.2">CRP</text>
<polyline points="428.4,563.3000000000001 424.0,565.7 428.4,568.1" fill="none" stroke="#111" stroke-width="1.5"/>
</svg></body></html>
